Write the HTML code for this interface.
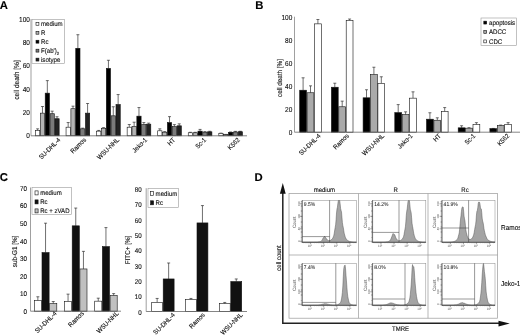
<!DOCTYPE html>
<html><head><meta charset="utf-8"><title>Figure</title>
<style>html,body{margin:0;padding:0;background:#fff;}svg{display:block;filter:blur(0.45px);}</style></head><body>
<svg width="520" height="335" viewBox="0 0 520 335" font-family="Liberation Sans, Arial, sans-serif" text-rendering="geometricPrecision">
<rect x="0" y="0" width="520" height="335" fill="#fff"/>
<text transform="translate(-0.20 8.50) scale(1.0000 1)" font-size="11.30" text-anchor="start" fill="#000" stroke="#000" stroke-width="0.12" font-weight="bold" >A</text>
<text transform="translate(255.20 8.80) scale(1.0000 1)" font-size="11.30" text-anchor="start" fill="#000" stroke="#000" stroke-width="0.12" font-weight="bold" >B</text>
<text transform="translate(-0.20 181.20) scale(1.0000 1)" font-size="11.30" text-anchor="start" fill="#000" stroke="#000" stroke-width="0.12" font-weight="bold" >C</text>
<text transform="translate(254.40 180.90) scale(1.0000 1)" font-size="11.30" text-anchor="start" fill="#000" stroke="#000" stroke-width="0.12" font-weight="bold" >D</text>
<line x1="31.00" y1="19.10" x2="31.00" y2="135.80" stroke="#777" stroke-width="0.7"/>
<text transform="translate(29.90 138.10) scale(0.9091 1)" font-size="7.15" text-anchor="end" fill="#111" stroke="#111" stroke-width="0.12" >0</text>
<text transform="translate(29.90 114.86) scale(0.9091 1)" font-size="7.15" text-anchor="end" fill="#111" stroke="#111" stroke-width="0.12" >20</text>
<text transform="translate(29.90 91.62) scale(0.9091 1)" font-size="7.15" text-anchor="end" fill="#111" stroke="#111" stroke-width="0.12" >40</text>
<text transform="translate(29.90 68.38) scale(0.9091 1)" font-size="7.15" text-anchor="end" fill="#111" stroke="#111" stroke-width="0.12" >60</text>
<text transform="translate(29.90 45.14) scale(0.9091 1)" font-size="7.15" text-anchor="end" fill="#111" stroke="#111" stroke-width="0.12" >80</text>
<text transform="translate(29.90 21.90) scale(0.9091 1)" font-size="7.15" text-anchor="end" fill="#111" stroke="#111" stroke-width="0.12" >100</text>
<line x1="37.62" y1="130.57" x2="37.62" y2="128.83" stroke="#222" stroke-width="0.65"/>
<line x1="36.12" y1="128.83" x2="39.12" y2="128.83" stroke="#222" stroke-width="0.65"/>
<rect x="35.50" y="130.57" width="4.25" height="5.23" fill="#fff" stroke="#111" stroke-width="0.6"/>
<line x1="42.48" y1="113.14" x2="42.48" y2="106.52" stroke="#222" stroke-width="0.65"/>
<line x1="40.98" y1="106.52" x2="43.98" y2="106.52" stroke="#222" stroke-width="0.65"/>
<rect x="40.35" y="113.14" width="4.25" height="22.66" fill="#b4b4b4" stroke="#111" stroke-width="0.6"/>
<line x1="47.33" y1="93.15" x2="47.33" y2="80.61" stroke="#222" stroke-width="0.65"/>
<line x1="45.83" y1="80.61" x2="48.83" y2="80.61" stroke="#222" stroke-width="0.65"/>
<rect x="45.20" y="93.15" width="4.25" height="42.65" fill="#000" stroke="#111" stroke-width="0.6"/>
<line x1="52.17" y1="113.72" x2="52.17" y2="111.17" stroke="#222" stroke-width="0.65"/>
<line x1="50.67" y1="111.17" x2="53.67" y2="111.17" stroke="#222" stroke-width="0.65"/>
<rect x="50.05" y="113.72" width="4.25" height="22.08" fill="#7a7a7a" stroke="#111" stroke-width="0.6"/>
<line x1="57.02" y1="118.72" x2="57.02" y2="116.74" stroke="#222" stroke-width="0.65"/>
<line x1="55.52" y1="116.74" x2="58.52" y2="116.74" stroke="#222" stroke-width="0.65"/>
<rect x="54.90" y="118.72" width="4.25" height="17.08" fill="#222" stroke="#111" stroke-width="0.6"/>
<text transform="translate(60.95 140.30) rotate(-45) scale(0.9091 1)" font-size="6.60" text-anchor="end" fill="#111" stroke="#111" stroke-width="0.12" >SU-DHL-4</text>
<line x1="68.17" y1="127.20" x2="68.17" y2="122.55" stroke="#222" stroke-width="0.65"/>
<line x1="66.67" y1="122.55" x2="69.67" y2="122.55" stroke="#222" stroke-width="0.65"/>
<rect x="66.05" y="127.20" width="4.25" height="8.60" fill="#fff" stroke="#111" stroke-width="0.6"/>
<line x1="73.02" y1="108.73" x2="73.02" y2="106.17" stroke="#222" stroke-width="0.65"/>
<line x1="71.52" y1="106.17" x2="74.52" y2="106.17" stroke="#222" stroke-width="0.65"/>
<rect x="70.90" y="108.73" width="4.25" height="27.07" fill="#b4b4b4" stroke="#111" stroke-width="0.6"/>
<line x1="77.88" y1="48.30" x2="77.88" y2="34.71" stroke="#222" stroke-width="0.65"/>
<line x1="76.38" y1="34.71" x2="79.38" y2="34.71" stroke="#222" stroke-width="0.65"/>
<rect x="75.75" y="48.30" width="4.25" height="87.50" fill="#000" stroke="#111" stroke-width="0.6"/>
<line x1="82.72" y1="128.83" x2="82.72" y2="128.13" stroke="#222" stroke-width="0.65"/>
<line x1="81.22" y1="128.13" x2="84.22" y2="128.13" stroke="#222" stroke-width="0.65"/>
<rect x="80.60" y="128.83" width="4.25" height="6.97" fill="#7a7a7a" stroke="#111" stroke-width="0.6"/>
<line x1="87.58" y1="113.14" x2="87.58" y2="103.50" stroke="#222" stroke-width="0.65"/>
<line x1="86.08" y1="103.50" x2="89.08" y2="103.50" stroke="#222" stroke-width="0.65"/>
<rect x="85.45" y="113.14" width="4.25" height="22.66" fill="#222" stroke="#111" stroke-width="0.6"/>
<text transform="translate(86.50 140.30) rotate(-45) scale(0.9091 1)" font-size="6.60" text-anchor="end" fill="#111" stroke="#111" stroke-width="0.12" >Ramos</text>
<line x1="98.73" y1="131.15" x2="98.73" y2="130.45" stroke="#222" stroke-width="0.65"/>
<line x1="97.23" y1="130.45" x2="100.23" y2="130.45" stroke="#222" stroke-width="0.65"/>
<rect x="96.60" y="131.15" width="4.25" height="4.65" fill="#fff" stroke="#111" stroke-width="0.6"/>
<line x1="103.58" y1="128.25" x2="103.58" y2="127.67" stroke="#222" stroke-width="0.65"/>
<line x1="102.08" y1="127.67" x2="105.08" y2="127.67" stroke="#222" stroke-width="0.65"/>
<rect x="101.45" y="128.25" width="4.25" height="7.55" fill="#b4b4b4" stroke="#111" stroke-width="0.6"/>
<line x1="108.43" y1="68.40" x2="108.43" y2="60.27" stroke="#222" stroke-width="0.65"/>
<line x1="106.93" y1="60.27" x2="109.93" y2="60.27" stroke="#222" stroke-width="0.65"/>
<rect x="106.30" y="68.40" width="4.25" height="67.40" fill="#000" stroke="#111" stroke-width="0.6"/>
<line x1="113.28" y1="115.81" x2="113.28" y2="106.75" stroke="#222" stroke-width="0.65"/>
<line x1="111.78" y1="106.75" x2="114.78" y2="106.75" stroke="#222" stroke-width="0.65"/>
<rect x="111.15" y="115.81" width="4.25" height="19.99" fill="#7a7a7a" stroke="#111" stroke-width="0.6"/>
<line x1="118.13" y1="104.54" x2="118.13" y2="94.55" stroke="#222" stroke-width="0.65"/>
<line x1="116.63" y1="94.55" x2="119.63" y2="94.55" stroke="#222" stroke-width="0.65"/>
<rect x="116.00" y="104.54" width="4.25" height="31.26" fill="#222" stroke="#111" stroke-width="0.6"/>
<text transform="translate(119.55 140.30) rotate(-45) scale(0.9091 1)" font-size="6.60" text-anchor="end" fill="#111" stroke="#111" stroke-width="0.12" >WSU-NHL</text>
<line x1="129.28" y1="127.20" x2="129.28" y2="124.53" stroke="#222" stroke-width="0.65"/>
<line x1="127.78" y1="124.53" x2="130.78" y2="124.53" stroke="#222" stroke-width="0.65"/>
<rect x="127.15" y="127.20" width="4.25" height="8.60" fill="#fff" stroke="#111" stroke-width="0.6"/>
<line x1="134.13" y1="126.62" x2="134.13" y2="122.20" stroke="#222" stroke-width="0.65"/>
<line x1="132.63" y1="122.20" x2="135.63" y2="122.20" stroke="#222" stroke-width="0.65"/>
<rect x="132.00" y="126.62" width="4.25" height="9.18" fill="#b4b4b4" stroke="#111" stroke-width="0.6"/>
<line x1="138.98" y1="116.16" x2="138.98" y2="107.56" stroke="#222" stroke-width="0.65"/>
<line x1="137.48" y1="107.56" x2="140.48" y2="107.56" stroke="#222" stroke-width="0.65"/>
<rect x="136.85" y="116.16" width="4.25" height="19.64" fill="#000" stroke="#111" stroke-width="0.6"/>
<line x1="143.83" y1="124.53" x2="143.83" y2="122.55" stroke="#222" stroke-width="0.65"/>
<line x1="142.33" y1="122.55" x2="145.33" y2="122.55" stroke="#222" stroke-width="0.65"/>
<rect x="141.70" y="124.53" width="4.25" height="11.27" fill="#7a7a7a" stroke="#111" stroke-width="0.6"/>
<line x1="148.68" y1="124.18" x2="148.68" y2="123.13" stroke="#222" stroke-width="0.65"/>
<line x1="147.18" y1="123.13" x2="150.18" y2="123.13" stroke="#222" stroke-width="0.65"/>
<rect x="146.55" y="124.18" width="4.25" height="11.62" fill="#222" stroke="#111" stroke-width="0.6"/>
<text transform="translate(147.70 140.30) rotate(-45) scale(0.9091 1)" font-size="6.60" text-anchor="end" fill="#111" stroke="#111" stroke-width="0.12" >Jeko-1</text>
<line x1="159.83" y1="130.80" x2="159.83" y2="128.83" stroke="#222" stroke-width="0.65"/>
<line x1="158.33" y1="128.83" x2="161.33" y2="128.83" stroke="#222" stroke-width="0.65"/>
<rect x="157.70" y="130.80" width="4.25" height="5.00" fill="#fff" stroke="#111" stroke-width="0.6"/>
<line x1="164.68" y1="132.20" x2="164.68" y2="131.62" stroke="#222" stroke-width="0.65"/>
<line x1="163.18" y1="131.62" x2="166.18" y2="131.62" stroke="#222" stroke-width="0.65"/>
<rect x="162.55" y="132.20" width="4.25" height="3.60" fill="#b4b4b4" stroke="#111" stroke-width="0.6"/>
<line x1="169.53" y1="122.55" x2="169.53" y2="116.63" stroke="#222" stroke-width="0.65"/>
<line x1="168.03" y1="116.63" x2="171.03" y2="116.63" stroke="#222" stroke-width="0.65"/>
<rect x="167.40" y="122.55" width="4.25" height="13.25" fill="#000" stroke="#111" stroke-width="0.6"/>
<line x1="174.38" y1="126.62" x2="174.38" y2="124.64" stroke="#222" stroke-width="0.65"/>
<line x1="172.88" y1="124.64" x2="175.88" y2="124.64" stroke="#222" stroke-width="0.65"/>
<rect x="172.25" y="126.62" width="4.25" height="9.18" fill="#7a7a7a" stroke="#111" stroke-width="0.6"/>
<line x1="179.23" y1="125.81" x2="179.23" y2="123.83" stroke="#222" stroke-width="0.65"/>
<line x1="177.73" y1="123.83" x2="180.73" y2="123.83" stroke="#222" stroke-width="0.65"/>
<rect x="177.10" y="125.81" width="4.25" height="9.99" fill="#222" stroke="#111" stroke-width="0.6"/>
<text transform="translate(175.65 140.30) rotate(-45) scale(0.9091 1)" font-size="6.60" text-anchor="end" fill="#111" stroke="#111" stroke-width="0.12" >HT</text>
<line x1="190.38" y1="132.78" x2="190.38" y2="132.31" stroke="#222" stroke-width="0.65"/>
<line x1="188.88" y1="132.31" x2="191.88" y2="132.31" stroke="#222" stroke-width="0.65"/>
<rect x="188.25" y="132.78" width="4.25" height="3.02" fill="#fff" stroke="#111" stroke-width="0.6"/>
<line x1="195.22" y1="132.78" x2="195.22" y2="132.31" stroke="#222" stroke-width="0.65"/>
<line x1="193.72" y1="132.31" x2="196.72" y2="132.31" stroke="#222" stroke-width="0.65"/>
<rect x="193.10" y="132.78" width="4.25" height="3.02" fill="#b4b4b4" stroke="#111" stroke-width="0.6"/>
<line x1="200.07" y1="131.15" x2="200.07" y2="129.41" stroke="#222" stroke-width="0.65"/>
<line x1="198.57" y1="129.41" x2="201.57" y2="129.41" stroke="#222" stroke-width="0.65"/>
<rect x="197.95" y="131.15" width="4.25" height="4.65" fill="#000" stroke="#111" stroke-width="0.6"/>
<line x1="204.93" y1="132.20" x2="204.93" y2="131.62" stroke="#222" stroke-width="0.65"/>
<line x1="203.43" y1="131.62" x2="206.43" y2="131.62" stroke="#222" stroke-width="0.65"/>
<rect x="202.80" y="132.20" width="4.25" height="3.60" fill="#7a7a7a" stroke="#111" stroke-width="0.6"/>
<line x1="209.78" y1="131.85" x2="209.78" y2="131.27" stroke="#222" stroke-width="0.65"/>
<line x1="208.28" y1="131.27" x2="211.28" y2="131.27" stroke="#222" stroke-width="0.65"/>
<rect x="207.65" y="131.85" width="4.25" height="3.95" fill="#222" stroke="#111" stroke-width="0.6"/>
<text transform="translate(206.60 140.30) rotate(-45) scale(0.9091 1)" font-size="6.60" text-anchor="end" fill="#111" stroke="#111" stroke-width="0.12" >Sc-1</text>
<line x1="220.93" y1="133.48" x2="220.93" y2="133.13" stroke="#222" stroke-width="0.65"/>
<line x1="219.43" y1="133.13" x2="222.43" y2="133.13" stroke="#222" stroke-width="0.65"/>
<rect x="218.80" y="133.48" width="4.25" height="2.32" fill="#fff" stroke="#111" stroke-width="0.6"/>
<line x1="225.78" y1="134.64" x2="225.78" y2="134.41" stroke="#222" stroke-width="0.65"/>
<line x1="224.28" y1="134.41" x2="227.28" y2="134.41" stroke="#222" stroke-width="0.65"/>
<rect x="223.65" y="134.64" width="4.25" height="1.16" fill="#b4b4b4" stroke="#111" stroke-width="0.6"/>
<line x1="230.62" y1="132.31" x2="230.62" y2="131.97" stroke="#222" stroke-width="0.65"/>
<line x1="229.12" y1="131.97" x2="232.12" y2="131.97" stroke="#222" stroke-width="0.65"/>
<rect x="228.50" y="132.31" width="4.25" height="3.49" fill="#000" stroke="#111" stroke-width="0.6"/>
<line x1="235.48" y1="131.97" x2="235.48" y2="131.38" stroke="#222" stroke-width="0.65"/>
<line x1="233.98" y1="131.38" x2="236.98" y2="131.38" stroke="#222" stroke-width="0.65"/>
<rect x="233.35" y="131.97" width="4.25" height="3.83" fill="#7a7a7a" stroke="#111" stroke-width="0.6"/>
<line x1="240.33" y1="131.73" x2="240.33" y2="131.27" stroke="#222" stroke-width="0.65"/>
<line x1="238.83" y1="131.27" x2="241.83" y2="131.27" stroke="#222" stroke-width="0.65"/>
<rect x="238.20" y="131.73" width="4.25" height="4.07" fill="#222" stroke="#111" stroke-width="0.6"/>
<text transform="translate(240.25 140.30) rotate(-45) scale(0.9091 1)" font-size="6.60" text-anchor="end" fill="#111" stroke="#111" stroke-width="0.12" >K562</text>
<line x1="31.00" y1="135.80" x2="247.00" y2="135.80" stroke="#666" stroke-width="0.8"/>
<text transform="translate(19.30 80.00) rotate(-90) scale(0.9091 1)" font-size="7.26" text-anchor="middle" fill="#111" stroke="#111" stroke-width="0.12" >cell death [%]</text>
<rect x="32.00" y="19.40" width="32.40" height="44.20" fill="#fff" stroke="#999" stroke-width="0.6"/>
<rect x="36.00" y="22.35" width="2.90" height="2.90" fill="#fff" stroke="#111" stroke-width="0.6"/>
<text transform="translate(41.00 26.10) scale(0.9091 1)" font-size="6.71" text-anchor="start" fill="#111" stroke="#111" stroke-width="0.12" >medium</text>
<rect x="36.00" y="31.30" width="2.90" height="2.90" fill="#b4b4b4" stroke="#111" stroke-width="0.6"/>
<text transform="translate(41.00 35.05) scale(0.9091 1)" font-size="6.71" text-anchor="start" fill="#111" stroke="#111" stroke-width="0.12" >R</text>
<rect x="36.00" y="40.25" width="2.90" height="2.90" fill="#000" stroke="#111" stroke-width="0.6"/>
<text transform="translate(41.00 44.00) scale(0.9091 1)" font-size="6.71" text-anchor="start" fill="#111" stroke="#111" stroke-width="0.12" >Rc</text>
<rect x="36.00" y="49.20" width="2.90" height="2.90" fill="#7a7a7a" stroke="#111" stroke-width="0.6"/>
<text transform="translate(41.00 52.95) scale(0.9091 1)" font-size="6.71" text-anchor="start" fill="#111" stroke="#111" stroke-width="0.12" >F(ab')<tspan font-size="4.6" dy="1.6">2</tspan></text>
<rect x="36.00" y="58.15" width="2.90" height="2.90" fill="#222" stroke="#111" stroke-width="0.6"/>
<text transform="translate(41.00 61.90) scale(0.9091 1)" font-size="6.71" text-anchor="start" fill="#111" stroke="#111" stroke-width="0.12" >isotype</text>
<line x1="294.50" y1="16.70" x2="294.50" y2="132.20" stroke="#777" stroke-width="0.7"/>
<text transform="translate(292.30 134.50) scale(0.9091 1)" font-size="7.15" text-anchor="end" fill="#111" stroke="#111" stroke-width="0.12" >0</text>
<text transform="translate(292.30 111.50) scale(0.9091 1)" font-size="7.15" text-anchor="end" fill="#111" stroke="#111" stroke-width="0.12" >20</text>
<text transform="translate(292.30 88.50) scale(0.9091 1)" font-size="7.15" text-anchor="end" fill="#111" stroke="#111" stroke-width="0.12" >40</text>
<text transform="translate(292.30 65.50) scale(0.9091 1)" font-size="7.15" text-anchor="end" fill="#111" stroke="#111" stroke-width="0.12" >60</text>
<text transform="translate(292.30 42.50) scale(0.9091 1)" font-size="7.15" text-anchor="end" fill="#111" stroke="#111" stroke-width="0.12" >80</text>
<text transform="translate(292.30 19.50) scale(0.9091 1)" font-size="7.15" text-anchor="end" fill="#111" stroke="#111" stroke-width="0.12" >100</text>
<line x1="303.10" y1="90.22" x2="303.10" y2="77.80" stroke="#222" stroke-width="0.65"/>
<line x1="301.60" y1="77.80" x2="304.60" y2="77.80" stroke="#222" stroke-width="0.65"/>
<rect x="299.70" y="90.22" width="6.80" height="41.97" fill="#000" stroke="#111" stroke-width="0.6"/>
<line x1="310.50" y1="92.75" x2="310.50" y2="85.85" stroke="#222" stroke-width="0.65"/>
<line x1="309.00" y1="85.85" x2="312.00" y2="85.85" stroke="#222" stroke-width="0.65"/>
<rect x="307.10" y="92.75" width="6.80" height="39.44" fill="#aaa" stroke="#111" stroke-width="0.6"/>
<line x1="317.90" y1="23.87" x2="317.90" y2="19.50" stroke="#222" stroke-width="0.65"/>
<line x1="316.40" y1="19.50" x2="319.40" y2="19.50" stroke="#222" stroke-width="0.65"/>
<rect x="314.50" y="23.87" width="6.80" height="108.33" fill="#fff" stroke="#111" stroke-width="0.6"/>
<text transform="translate(321.10 136.30) rotate(-45) scale(0.9091 1)" font-size="6.60" text-anchor="end" fill="#111" stroke="#111" stroke-width="0.12" >SU-DHL-4</text>
<line x1="334.80" y1="87.23" x2="334.80" y2="83.21" stroke="#222" stroke-width="0.65"/>
<line x1="333.30" y1="83.21" x2="336.30" y2="83.21" stroke="#222" stroke-width="0.65"/>
<rect x="331.40" y="87.23" width="6.80" height="44.97" fill="#000" stroke="#111" stroke-width="0.6"/>
<line x1="342.20" y1="106.78" x2="342.20" y2="101.15" stroke="#222" stroke-width="0.65"/>
<line x1="340.70" y1="101.15" x2="343.70" y2="101.15" stroke="#222" stroke-width="0.65"/>
<rect x="338.80" y="106.78" width="6.80" height="25.41" fill="#aaa" stroke="#111" stroke-width="0.6"/>
<line x1="349.60" y1="20.42" x2="349.60" y2="19.04" stroke="#222" stroke-width="0.65"/>
<line x1="348.10" y1="19.04" x2="351.10" y2="19.04" stroke="#222" stroke-width="0.65"/>
<rect x="346.20" y="20.42" width="6.80" height="111.78" fill="#fff" stroke="#111" stroke-width="0.6"/>
<text transform="translate(349.30 136.30) rotate(-45) scale(0.9091 1)" font-size="6.60" text-anchor="end" fill="#111" stroke="#111" stroke-width="0.12" >Ramos</text>
<line x1="366.50" y1="97.81" x2="366.50" y2="89.76" stroke="#222" stroke-width="0.65"/>
<line x1="365.00" y1="89.76" x2="368.00" y2="89.76" stroke="#222" stroke-width="0.65"/>
<rect x="363.10" y="97.81" width="6.80" height="34.38" fill="#000" stroke="#111" stroke-width="0.6"/>
<line x1="373.90" y1="74.58" x2="373.90" y2="67.22" stroke="#222" stroke-width="0.65"/>
<line x1="372.40" y1="67.22" x2="375.40" y2="67.22" stroke="#222" stroke-width="0.65"/>
<rect x="370.50" y="74.58" width="6.80" height="57.61" fill="#aaa" stroke="#111" stroke-width="0.6"/>
<line x1="381.30" y1="83.32" x2="381.30" y2="76.77" stroke="#222" stroke-width="0.65"/>
<line x1="379.80" y1="76.77" x2="382.80" y2="76.77" stroke="#222" stroke-width="0.65"/>
<rect x="377.90" y="83.32" width="6.80" height="48.88" fill="#fff" stroke="#111" stroke-width="0.6"/>
<text transform="translate(384.60 136.30) rotate(-45) scale(0.9091 1)" font-size="6.60" text-anchor="end" fill="#111" stroke="#111" stroke-width="0.12" >WSU-NHL</text>
<line x1="398.20" y1="112.65" x2="398.20" y2="104.60" stroke="#222" stroke-width="0.65"/>
<line x1="396.70" y1="104.60" x2="399.70" y2="104.60" stroke="#222" stroke-width="0.65"/>
<rect x="394.80" y="112.65" width="6.80" height="19.55" fill="#000" stroke="#111" stroke-width="0.6"/>
<line x1="405.60" y1="114.60" x2="405.60" y2="111.84" stroke="#222" stroke-width="0.65"/>
<line x1="404.10" y1="111.84" x2="407.10" y2="111.84" stroke="#222" stroke-width="0.65"/>
<rect x="402.20" y="114.60" width="6.80" height="17.59" fill="#aaa" stroke="#111" stroke-width="0.6"/>
<line x1="413.00" y1="98.16" x2="413.00" y2="91.83" stroke="#222" stroke-width="0.65"/>
<line x1="411.50" y1="91.83" x2="414.50" y2="91.83" stroke="#222" stroke-width="0.65"/>
<rect x="409.60" y="98.16" width="6.80" height="34.04" fill="#fff" stroke="#111" stroke-width="0.6"/>
<text transform="translate(413.10 136.30) rotate(-45) scale(0.9091 1)" font-size="6.60" text-anchor="end" fill="#111" stroke="#111" stroke-width="0.12" >Jeko-1</text>
<line x1="429.90" y1="119.20" x2="429.90" y2="112.76" stroke="#222" stroke-width="0.65"/>
<line x1="428.40" y1="112.76" x2="431.40" y2="112.76" stroke="#222" stroke-width="0.65"/>
<rect x="426.50" y="119.20" width="6.80" height="13.00" fill="#000" stroke="#111" stroke-width="0.6"/>
<line x1="437.30" y1="120.24" x2="437.30" y2="117.82" stroke="#222" stroke-width="0.65"/>
<line x1="435.80" y1="117.82" x2="438.80" y2="117.82" stroke="#222" stroke-width="0.65"/>
<rect x="433.90" y="120.24" width="6.80" height="11.96" fill="#aaa" stroke="#111" stroke-width="0.6"/>
<line x1="444.70" y1="111.61" x2="444.70" y2="107.59" stroke="#222" stroke-width="0.65"/>
<line x1="443.20" y1="107.59" x2="446.20" y2="107.59" stroke="#222" stroke-width="0.65"/>
<rect x="441.30" y="111.61" width="6.80" height="20.58" fill="#fff" stroke="#111" stroke-width="0.6"/>
<text transform="translate(441.40 136.30) rotate(-45) scale(0.9091 1)" font-size="6.60" text-anchor="end" fill="#111" stroke="#111" stroke-width="0.12" >HT</text>
<line x1="461.60" y1="127.83" x2="461.60" y2="125.76" stroke="#222" stroke-width="0.65"/>
<line x1="460.10" y1="125.76" x2="463.10" y2="125.76" stroke="#222" stroke-width="0.65"/>
<rect x="458.20" y="127.83" width="6.80" height="4.37" fill="#000" stroke="#111" stroke-width="0.6"/>
<line x1="469.00" y1="128.17" x2="469.00" y2="127.71" stroke="#222" stroke-width="0.65"/>
<line x1="467.50" y1="127.71" x2="470.50" y2="127.71" stroke="#222" stroke-width="0.65"/>
<rect x="465.60" y="128.17" width="6.80" height="4.03" fill="#aaa" stroke="#111" stroke-width="0.6"/>
<line x1="476.40" y1="124.61" x2="476.40" y2="122.65" stroke="#222" stroke-width="0.65"/>
<line x1="474.90" y1="122.65" x2="477.90" y2="122.65" stroke="#222" stroke-width="0.65"/>
<rect x="473.00" y="124.61" width="6.80" height="7.59" fill="#fff" stroke="#111" stroke-width="0.6"/>
<text transform="translate(475.90 136.30) rotate(-45) scale(0.9091 1)" font-size="6.60" text-anchor="end" fill="#111" stroke="#111" stroke-width="0.12" >Sc-1</text>
<line x1="493.30" y1="128.63" x2="493.30" y2="128.41" stroke="#222" stroke-width="0.65"/>
<line x1="491.80" y1="128.41" x2="494.80" y2="128.41" stroke="#222" stroke-width="0.65"/>
<rect x="489.90" y="128.63" width="6.80" height="3.56" fill="#000" stroke="#111" stroke-width="0.6"/>
<line x1="500.70" y1="125.64" x2="500.70" y2="125.07" stroke="#222" stroke-width="0.65"/>
<line x1="499.20" y1="125.07" x2="502.20" y2="125.07" stroke="#222" stroke-width="0.65"/>
<rect x="497.30" y="125.64" width="6.80" height="6.56" fill="#aaa" stroke="#111" stroke-width="0.6"/>
<line x1="508.10" y1="124.61" x2="508.10" y2="122.65" stroke="#222" stroke-width="0.65"/>
<line x1="506.60" y1="122.65" x2="509.60" y2="122.65" stroke="#222" stroke-width="0.65"/>
<rect x="504.70" y="124.61" width="6.80" height="7.59" fill="#fff" stroke="#111" stroke-width="0.6"/>
<text transform="translate(509.80 136.30) rotate(-45) scale(0.9091 1)" font-size="6.60" text-anchor="end" fill="#111" stroke="#111" stroke-width="0.12" >K562</text>
<line x1="294.50" y1="132.20" x2="520.00" y2="132.20" stroke="#666" stroke-width="0.8"/>
<text transform="translate(282.00 78.00) rotate(-90) scale(0.9091 1)" font-size="6.93" text-anchor="middle" fill="#111" stroke="#111" stroke-width="0.12" >cell death [%]</text>
<rect x="481.00" y="18.00" width="35.60" height="27.60" fill="#fff" stroke="#999" stroke-width="0.6"/>
<rect x="483.80" y="21.15" width="2.90" height="2.90" fill="#000" stroke="#111" stroke-width="0.6"/>
<text transform="translate(489.00 24.90) scale(0.9091 1)" font-size="6.71" text-anchor="start" fill="#111" stroke="#111" stroke-width="0.12" >apoptosis</text>
<rect x="483.80" y="30.55" width="2.90" height="2.90" fill="#aaa" stroke="#111" stroke-width="0.6"/>
<text transform="translate(489.00 34.30) scale(0.9091 1)" font-size="6.71" text-anchor="start" fill="#111" stroke="#111" stroke-width="0.12" >ADCC</text>
<rect x="483.80" y="39.95" width="2.90" height="2.90" fill="#fff" stroke="#111" stroke-width="0.6"/>
<text transform="translate(489.00 43.70) scale(0.9091 1)" font-size="6.71" text-anchor="start" fill="#111" stroke="#111" stroke-width="0.12" >CDC</text>
<line x1="30.50" y1="187.50" x2="30.50" y2="311.20" stroke="#777" stroke-width="0.7"/>
<text transform="translate(27.00 313.90) scale(0.9091 1)" font-size="6.93" text-anchor="end" fill="#111" stroke="#111" stroke-width="0.12" >0</text>
<text transform="translate(27.00 296.30) scale(0.9091 1)" font-size="6.93" text-anchor="end" fill="#111" stroke="#111" stroke-width="0.12" >10</text>
<text transform="translate(27.00 278.70) scale(0.9091 1)" font-size="6.93" text-anchor="end" fill="#111" stroke="#111" stroke-width="0.12" >20</text>
<text transform="translate(27.00 261.10) scale(0.9091 1)" font-size="6.93" text-anchor="end" fill="#111" stroke="#111" stroke-width="0.12" >30</text>
<text transform="translate(27.00 243.50) scale(0.9091 1)" font-size="6.93" text-anchor="end" fill="#111" stroke="#111" stroke-width="0.12" >40</text>
<text transform="translate(27.00 225.90) scale(0.9091 1)" font-size="6.93" text-anchor="end" fill="#111" stroke="#111" stroke-width="0.12" >50</text>
<text transform="translate(27.00 208.30) scale(0.9091 1)" font-size="6.93" text-anchor="end" fill="#111" stroke="#111" stroke-width="0.12" >60</text>
<text transform="translate(27.00 190.70) scale(0.9091 1)" font-size="6.93" text-anchor="end" fill="#111" stroke="#111" stroke-width="0.12" >70</text>
<line x1="37.85" y1="300.64" x2="37.85" y2="296.77" stroke="#222" stroke-width="0.65"/>
<line x1="36.35" y1="296.77" x2="39.35" y2="296.77" stroke="#222" stroke-width="0.65"/>
<rect x="34.30" y="300.64" width="7.10" height="10.56" fill="#fff" stroke="#111" stroke-width="0.6"/>
<line x1="45.55" y1="252.59" x2="45.55" y2="223.20" stroke="#222" stroke-width="0.65"/>
<line x1="44.05" y1="223.20" x2="47.05" y2="223.20" stroke="#222" stroke-width="0.65"/>
<rect x="42.00" y="252.59" width="7.10" height="58.61" fill="#111" stroke="#111" stroke-width="0.6"/>
<line x1="53.25" y1="303.63" x2="53.25" y2="301.52" stroke="#222" stroke-width="0.65"/>
<line x1="51.75" y1="301.52" x2="54.75" y2="301.52" stroke="#222" stroke-width="0.65"/>
<rect x="49.70" y="303.63" width="7.10" height="7.57" fill="#c0c0c0" stroke="#111" stroke-width="0.6"/>
<text transform="translate(57.10 314.00) rotate(-45) scale(0.9091 1)" font-size="6.60" text-anchor="end" fill="#111" stroke="#111" stroke-width="0.12" >SU-DHL-4</text>
<line x1="68.05" y1="301.52" x2="68.05" y2="294.13" stroke="#222" stroke-width="0.65"/>
<line x1="66.55" y1="294.13" x2="69.55" y2="294.13" stroke="#222" stroke-width="0.65"/>
<rect x="64.50" y="301.52" width="7.10" height="9.68" fill="#fff" stroke="#111" stroke-width="0.6"/>
<line x1="75.75" y1="225.84" x2="75.75" y2="208.06" stroke="#222" stroke-width="0.65"/>
<line x1="74.25" y1="208.06" x2="77.25" y2="208.06" stroke="#222" stroke-width="0.65"/>
<rect x="72.20" y="225.84" width="7.10" height="85.36" fill="#111" stroke="#111" stroke-width="0.6"/>
<line x1="83.45" y1="268.96" x2="83.45" y2="251.36" stroke="#222" stroke-width="0.65"/>
<line x1="81.95" y1="251.36" x2="84.95" y2="251.36" stroke="#222" stroke-width="0.65"/>
<rect x="79.90" y="268.96" width="7.10" height="42.24" fill="#c0c0c0" stroke="#111" stroke-width="0.6"/>
<text transform="translate(84.30 314.00) rotate(-45) scale(0.9091 1)" font-size="6.60" text-anchor="end" fill="#111" stroke="#111" stroke-width="0.12" >Ramos</text>
<line x1="98.25" y1="301.17" x2="98.25" y2="298.18" stroke="#222" stroke-width="0.65"/>
<line x1="96.75" y1="298.18" x2="99.75" y2="298.18" stroke="#222" stroke-width="0.65"/>
<rect x="94.70" y="301.17" width="7.10" height="10.03" fill="#fff" stroke="#111" stroke-width="0.6"/>
<line x1="105.95" y1="246.61" x2="105.95" y2="227.60" stroke="#222" stroke-width="0.65"/>
<line x1="104.45" y1="227.60" x2="107.45" y2="227.60" stroke="#222" stroke-width="0.65"/>
<rect x="102.40" y="246.61" width="7.10" height="64.59" fill="#111" stroke="#111" stroke-width="0.6"/>
<line x1="113.65" y1="295.54" x2="113.65" y2="293.60" stroke="#222" stroke-width="0.65"/>
<line x1="112.15" y1="293.60" x2="115.15" y2="293.60" stroke="#222" stroke-width="0.65"/>
<rect x="110.10" y="295.54" width="7.10" height="15.66" fill="#c0c0c0" stroke="#111" stroke-width="0.6"/>
<text transform="translate(119.00 314.00) rotate(-45) scale(0.9091 1)" font-size="6.60" text-anchor="end" fill="#111" stroke="#111" stroke-width="0.12" >WSU-NHL</text>
<line x1="30.50" y1="311.20" x2="121.00" y2="311.20" stroke="#666" stroke-width="0.8"/>
<text transform="translate(16.50 251.50) rotate(-90) scale(0.9091 1)" font-size="6.93" text-anchor="middle" fill="#111" stroke="#111" stroke-width="0.12" >sub-G1 [%]</text>
<rect x="32.00" y="187.40" width="39.60" height="27.20" fill="#fff" stroke="#999" stroke-width="0.6"/>
<rect x="35.00" y="190.90" width="3.10" height="4.00" fill="#fff" stroke="#111" stroke-width="0.6"/>
<text transform="translate(40.20 195.20) scale(0.9091 1)" font-size="6.66" text-anchor="start" fill="#111" stroke="#111" stroke-width="0.12" >medium</text>
<rect x="35.00" y="199.90" width="3.10" height="4.00" fill="#111" stroke="#111" stroke-width="0.6"/>
<text transform="translate(40.20 204.20) scale(0.9091 1)" font-size="6.66" text-anchor="start" fill="#111" stroke="#111" stroke-width="0.12" >Rc</text>
<rect x="35.00" y="208.90" width="3.10" height="4.00" fill="#c0c0c0" stroke="#111" stroke-width="0.6"/>
<text transform="translate(40.20 213.20) scale(0.9091 1)" font-size="6.66" text-anchor="start" fill="#111" stroke="#111" stroke-width="0.12" >Rc + zVAD</text>
<line x1="146.20" y1="188.20" x2="146.20" y2="311.50" stroke="#777" stroke-width="0.7"/>
<text transform="translate(141.60 314.80) scale(0.9091 1)" font-size="6.82" text-anchor="end" fill="#111" stroke="#111" stroke-width="0.12" >0</text>
<text transform="translate(141.60 299.45) scale(0.9091 1)" font-size="6.82" text-anchor="end" fill="#111" stroke="#111" stroke-width="0.12" >10</text>
<text transform="translate(141.60 284.10) scale(0.9091 1)" font-size="6.82" text-anchor="end" fill="#111" stroke="#111" stroke-width="0.12" >20</text>
<text transform="translate(141.60 268.75) scale(0.9091 1)" font-size="6.82" text-anchor="end" fill="#111" stroke="#111" stroke-width="0.12" >30</text>
<text transform="translate(141.60 253.40) scale(0.9091 1)" font-size="6.82" text-anchor="end" fill="#111" stroke="#111" stroke-width="0.12" >40</text>
<text transform="translate(141.60 238.05) scale(0.9091 1)" font-size="6.82" text-anchor="end" fill="#111" stroke="#111" stroke-width="0.12" >50</text>
<text transform="translate(141.60 222.70) scale(0.9091 1)" font-size="6.82" text-anchor="end" fill="#111" stroke="#111" stroke-width="0.12" >60</text>
<text transform="translate(141.60 207.35) scale(0.9091 1)" font-size="6.82" text-anchor="end" fill="#111" stroke="#111" stroke-width="0.12" >70</text>
<text transform="translate(141.60 192.00) scale(0.9091 1)" font-size="6.82" text-anchor="end" fill="#111" stroke="#111" stroke-width="0.12" >80</text>
<line x1="157.15" y1="302.44" x2="157.15" y2="298.45" stroke="#222" stroke-width="0.65"/>
<line x1="155.65" y1="298.45" x2="158.65" y2="298.45" stroke="#222" stroke-width="0.65"/>
<rect x="151.70" y="302.44" width="10.90" height="9.06" fill="#fff" stroke="#111" stroke-width="0.6"/>
<line x1="168.65" y1="278.96" x2="168.65" y2="262.99" stroke="#222" stroke-width="0.65"/>
<line x1="167.15" y1="262.99" x2="170.15" y2="262.99" stroke="#222" stroke-width="0.65"/>
<rect x="163.20" y="278.96" width="10.90" height="32.54" fill="#111" stroke="#111" stroke-width="0.6"/>
<text transform="translate(175.40 315.50) rotate(-45) scale(0.9091 1)" font-size="6.60" text-anchor="end" fill="#111" stroke="#111" stroke-width="0.12" >SU-DHL-4</text>
<line x1="190.95" y1="299.60" x2="190.95" y2="298.45" stroke="#222" stroke-width="0.65"/>
<line x1="189.45" y1="298.45" x2="192.45" y2="298.45" stroke="#222" stroke-width="0.65"/>
<rect x="185.50" y="299.60" width="10.90" height="11.90" fill="#fff" stroke="#111" stroke-width="0.6"/>
<line x1="202.45" y1="222.93" x2="202.45" y2="205.59" stroke="#222" stroke-width="0.65"/>
<line x1="200.95" y1="205.59" x2="203.95" y2="205.59" stroke="#222" stroke-width="0.65"/>
<rect x="197.00" y="222.93" width="10.90" height="88.57" fill="#111" stroke="#111" stroke-width="0.6"/>
<text transform="translate(205.20 315.50) rotate(-45) scale(0.9091 1)" font-size="6.60" text-anchor="end" fill="#111" stroke="#111" stroke-width="0.12" >Ramos</text>
<line x1="224.75" y1="303.67" x2="224.75" y2="302.44" stroke="#222" stroke-width="0.65"/>
<line x1="223.25" y1="302.44" x2="226.25" y2="302.44" stroke="#222" stroke-width="0.65"/>
<rect x="219.30" y="303.67" width="10.90" height="7.83" fill="#fff" stroke="#111" stroke-width="0.6"/>
<line x1="236.25" y1="281.57" x2="236.25" y2="278.96" stroke="#222" stroke-width="0.65"/>
<line x1="234.75" y1="278.96" x2="237.75" y2="278.96" stroke="#222" stroke-width="0.65"/>
<rect x="230.80" y="281.57" width="10.90" height="29.93" fill="#111" stroke="#111" stroke-width="0.6"/>
<text transform="translate(243.00 315.50) rotate(-45) scale(0.9091 1)" font-size="6.60" text-anchor="end" fill="#111" stroke="#111" stroke-width="0.12" >WSU-NHL</text>
<line x1="146.20" y1="311.50" x2="247.00" y2="311.50" stroke="#666" stroke-width="0.8"/>
<text transform="translate(130.30 250.00) rotate(-90) scale(0.9091 1)" font-size="6.93" text-anchor="middle" fill="#111" stroke="#111" stroke-width="0.12" >FITC+ [%]</text>
<rect x="148.00" y="188.40" width="30.60" height="19.20" fill="#fff" stroke="#999" stroke-width="0.6"/>
<rect x="150.60" y="191.60" width="3.00" height="4.00" fill="#fff" stroke="#111" stroke-width="0.6"/>
<text transform="translate(155.60 195.90) scale(0.9091 1)" font-size="6.71" text-anchor="start" fill="#111" stroke="#111" stroke-width="0.12" >medium</text>
<rect x="150.60" y="200.80" width="3.00" height="4.00" fill="#111" stroke="#111" stroke-width="0.6"/>
<text transform="translate(155.60 205.10) scale(0.9091 1)" font-size="6.71" text-anchor="start" fill="#111" stroke="#111" stroke-width="0.12" >Rc</text>
<path d="M282.8 192 L282.8 323.3 L500 323.3" fill="none" stroke="#222" stroke-width="1.5"/>
<polygon points="282.8,183 279.9,193.8 285.7,193.8" fill="#111"/>
<polygon points="509.8,323.6 498.5,320.8 498.5,326.6" fill="#111"/>
<text transform="translate(280.60 258.00) rotate(-90) scale(0.9091 1)" font-size="6.60" text-anchor="middle" fill="#111" stroke="#111" stroke-width="0.12" >cell count</text>
<text transform="translate(400.60 330.80) scale(0.9091 1)" font-size="6.60" text-anchor="middle" fill="#111" stroke="#111" stroke-width="0.12" >TMRE</text>
<rect x="289.00" y="193.60" width="208.60" height="124.60" fill="none" stroke="#999" stroke-width="0.7"/>
<line x1="358.50" y1="193.60" x2="358.50" y2="318.20" stroke="#999" stroke-width="0.7"/>
<line x1="428.00" y1="193.60" x2="428.00" y2="318.20" stroke="#999" stroke-width="0.7"/>
<line x1="289.00" y1="255.00" x2="497.60" y2="255.00" stroke="#999" stroke-width="0.7"/>
<text transform="translate(324.30 191.80) scale(0.9091 1)" font-size="6.60" text-anchor="middle" fill="#111" stroke="#111" stroke-width="0.12" >medium</text>
<text transform="translate(395.60 191.80) scale(0.9091 1)" font-size="6.60" text-anchor="middle" fill="#111" stroke="#111" stroke-width="0.12" >R</text>
<text transform="translate(465.00 191.80) scale(0.9091 1)" font-size="6.60" text-anchor="middle" fill="#111" stroke="#111" stroke-width="0.12" >Rc</text>
<text transform="translate(501.00 230.30) scale(0.9091 1)" font-size="7.15" text-anchor="start" fill="#111" stroke="#111" stroke-width="0.12" >Ramos</text>
<text transform="translate(501.00 286.30) scale(0.9091 1)" font-size="7.15" text-anchor="start" fill="#111" stroke="#111" stroke-width="0.12" >Jeko-1</text>
<rect x="302.20" y="200.30" width="54.20" height="42.00" fill="#fff" stroke="#888" stroke-width="0.5"/>
<path d="M302.20 242.30 L302.20 242.00 L302.65 242.00 L303.10 242.00 L303.56 242.00 L304.01 242.00 L304.46 242.00 L304.91 242.00 L305.36 242.00 L305.81 242.00 L306.26 242.00 L306.72 242.00 L307.17 242.00 L307.62 242.00 L308.07 242.00 L308.52 242.00 L308.97 242.00 L309.43 242.00 L309.88 242.00 L310.33 242.00 L310.78 242.00 L311.23 242.00 L311.69 242.00 L312.14 242.00 L312.59 242.00 L313.04 242.00 L313.49 242.00 L313.94 242.00 L314.39 241.99 L314.85 241.99 L315.30 241.98 L315.75 241.98 L316.20 241.97 L316.65 241.96 L317.11 241.94 L317.56 241.91 L318.01 241.88 L318.46 241.85 L318.91 241.82 L319.36 241.75 L319.81 241.66 L320.27 241.56 L320.72 241.40 L321.17 241.13 L321.62 240.71 L322.07 240.15 L322.52 239.28 L322.98 238.27 L323.43 237.64 L323.88 237.27 L324.33 236.63 L324.78 236.34 L325.24 236.94 L325.69 237.78 L326.14 238.31 L326.59 238.84 L327.04 239.48 L327.49 239.97 L327.94 240.29 L328.40 240.55 L328.85 240.70 L329.30 240.61 L329.75 240.43 L330.20 240.36 L330.65 240.29 L331.11 239.95 L331.56 239.45 L332.01 239.04 L332.46 238.57 L332.91 237.75 L333.37 236.67 L333.82 235.34 L334.27 233.13 L334.72 230.07 L335.17 227.48 L335.62 224.91 L336.07 219.73 L336.53 212.95 L336.98 209.01 L337.43 207.21 L337.88 203.36 L338.33 200.50 L338.78 200.50 L339.24 200.50 L339.69 200.50 L340.14 203.68 L340.59 208.39 L341.04 210.25 L341.50 211.96 L341.95 217.08 L342.40 222.67 L342.85 225.56 L343.30 227.56 L343.75 230.45 L344.20 233.18 L344.66 234.99 L345.11 236.47 L345.56 237.75 L346.01 238.56 L346.46 239.14 L346.91 239.81 L347.37 240.38 L347.82 240.65 L348.27 240.81 L348.72 241.05 L349.17 241.28 L349.62 241.42 L350.08 241.51 L350.53 241.61 L350.98 241.69 L351.43 241.75 L351.88 241.81 L352.33 241.86 L352.79 241.89 L353.24 241.90 L353.69 241.93 L354.14 241.95 L354.59 241.96 L355.05 241.97 L355.50 241.98 L355.95 241.98 L356.40 241.99 L356.40 242.30 Z" fill="#a4a4a4" stroke="#4a4a4a" stroke-width="0.45"/>
<line x1="329.60" y1="200.30" x2="329.60" y2="242.30" stroke="#333" stroke-width="0.5"/>
<line x1="302.20" y1="236.60" x2="329.60" y2="236.60" stroke="#333" stroke-width="0.5"/>
<line x1="302.20" y1="242.30" x2="356.40" y2="242.30" stroke="#444" stroke-width="0.6"/>
<line x1="302.20" y1="200.30" x2="302.20" y2="242.30" stroke="#444" stroke-width="0.6"/>
<line x1="301.50" y1="201.10" x2="301.50" y2="242.30" stroke="#555" stroke-width="1.4" stroke-dasharray="0.35 0.7"/>
<line x1="299.80" y1="203.80" x2="302.20" y2="203.80" stroke="#444" stroke-width="0.45"/>
<text transform="translate(299.60 203.80) rotate(-90) scale(0.9091 1)" font-size="2.86" text-anchor="middle" fill="#555" >150</text>
<line x1="299.80" y1="216.30" x2="302.20" y2="216.30" stroke="#444" stroke-width="0.45"/>
<text transform="translate(299.60 216.30) rotate(-90) scale(0.9091 1)" font-size="2.86" text-anchor="middle" fill="#555" >100</text>
<line x1="299.80" y1="228.80" x2="302.20" y2="228.80" stroke="#444" stroke-width="0.45"/>
<text transform="translate(299.60 228.80) rotate(-90) scale(0.9091 1)" font-size="2.86" text-anchor="middle" fill="#555" >50</text>
<line x1="299.80" y1="241.30" x2="302.20" y2="241.30" stroke="#444" stroke-width="0.45"/>
<text transform="translate(299.60 241.30) rotate(-90) scale(0.9091 1)" font-size="2.86" text-anchor="middle" fill="#555" >0</text>
<line x1="310.60" y1="242.30" x2="310.60" y2="244.20" stroke="#444" stroke-width="0.45"/>
<line x1="314.54" y1="242.30" x2="314.54" y2="243.30" stroke="#666" stroke-width="0.3"/>
<line x1="316.85" y1="242.30" x2="316.85" y2="243.30" stroke="#666" stroke-width="0.3"/>
<line x1="318.49" y1="242.30" x2="318.49" y2="243.30" stroke="#666" stroke-width="0.3"/>
<line x1="319.76" y1="242.30" x2="319.76" y2="243.30" stroke="#666" stroke-width="0.3"/>
<line x1="320.79" y1="242.30" x2="320.79" y2="243.30" stroke="#666" stroke-width="0.3"/>
<line x1="321.67" y1="242.30" x2="321.67" y2="243.30" stroke="#666" stroke-width="0.3"/>
<line x1="322.43" y1="242.30" x2="322.43" y2="243.30" stroke="#666" stroke-width="0.3"/>
<line x1="323.10" y1="242.30" x2="323.10" y2="243.30" stroke="#666" stroke-width="0.3"/>
<text transform="translate(309.80 247.20) scale(0.9091 1)" font-size="3.19" text-anchor="middle" fill="#555" >10<tspan font-size="2.1" dy="-1.2">1</tspan></text>
<line x1="323.70" y1="242.30" x2="323.70" y2="244.20" stroke="#444" stroke-width="0.45"/>
<line x1="327.64" y1="242.30" x2="327.64" y2="243.30" stroke="#666" stroke-width="0.3"/>
<line x1="329.95" y1="242.30" x2="329.95" y2="243.30" stroke="#666" stroke-width="0.3"/>
<line x1="331.59" y1="242.30" x2="331.59" y2="243.30" stroke="#666" stroke-width="0.3"/>
<line x1="332.86" y1="242.30" x2="332.86" y2="243.30" stroke="#666" stroke-width="0.3"/>
<line x1="333.89" y1="242.30" x2="333.89" y2="243.30" stroke="#666" stroke-width="0.3"/>
<line x1="334.77" y1="242.30" x2="334.77" y2="243.30" stroke="#666" stroke-width="0.3"/>
<line x1="335.53" y1="242.30" x2="335.53" y2="243.30" stroke="#666" stroke-width="0.3"/>
<line x1="336.20" y1="242.30" x2="336.20" y2="243.30" stroke="#666" stroke-width="0.3"/>
<text transform="translate(322.90 247.20) scale(0.9091 1)" font-size="3.19" text-anchor="middle" fill="#555" >10<tspan font-size="2.1" dy="-1.2">2</tspan></text>
<line x1="336.80" y1="242.30" x2="336.80" y2="244.20" stroke="#444" stroke-width="0.45"/>
<line x1="340.74" y1="242.30" x2="340.74" y2="243.30" stroke="#666" stroke-width="0.3"/>
<line x1="343.05" y1="242.30" x2="343.05" y2="243.30" stroke="#666" stroke-width="0.3"/>
<line x1="344.69" y1="242.30" x2="344.69" y2="243.30" stroke="#666" stroke-width="0.3"/>
<line x1="345.96" y1="242.30" x2="345.96" y2="243.30" stroke="#666" stroke-width="0.3"/>
<line x1="346.99" y1="242.30" x2="346.99" y2="243.30" stroke="#666" stroke-width="0.3"/>
<line x1="347.87" y1="242.30" x2="347.87" y2="243.30" stroke="#666" stroke-width="0.3"/>
<line x1="348.63" y1="242.30" x2="348.63" y2="243.30" stroke="#666" stroke-width="0.3"/>
<line x1="349.30" y1="242.30" x2="349.30" y2="243.30" stroke="#666" stroke-width="0.3"/>
<text transform="translate(336.00 247.20) scale(0.9091 1)" font-size="3.19" text-anchor="middle" fill="#555" >10<tspan font-size="2.1" dy="-1.2">3</tspan></text>
<line x1="349.90" y1="242.30" x2="349.90" y2="244.20" stroke="#444" stroke-width="0.45"/>
<line x1="353.84" y1="242.30" x2="353.84" y2="243.30" stroke="#666" stroke-width="0.3"/>
<line x1="356.15" y1="242.30" x2="356.15" y2="243.30" stroke="#666" stroke-width="0.3"/>
<text transform="translate(349.10 247.20) scale(0.9091 1)" font-size="3.19" text-anchor="middle" fill="#555" >10<tspan font-size="2.1" dy="-1.2">4</tspan></text>
<line x1="303.75" y1="242.30" x2="303.75" y2="243.30" stroke="#666" stroke-width="0.3"/>
<line x1="305.39" y1="242.30" x2="305.39" y2="243.30" stroke="#666" stroke-width="0.3"/>
<line x1="306.66" y1="242.30" x2="306.66" y2="243.30" stroke="#666" stroke-width="0.3"/>
<line x1="307.69" y1="242.30" x2="307.69" y2="243.30" stroke="#666" stroke-width="0.3"/>
<line x1="308.57" y1="242.30" x2="308.57" y2="243.30" stroke="#666" stroke-width="0.3"/>
<line x1="309.33" y1="242.30" x2="309.33" y2="243.30" stroke="#666" stroke-width="0.3"/>
<line x1="310.00" y1="242.30" x2="310.00" y2="243.30" stroke="#666" stroke-width="0.3"/>
<text transform="translate(296.20 222.30) rotate(-90) scale(0.9091 1)" font-size="4.73" text-anchor="middle" fill="#555" >Count</text>
<text transform="translate(303.80 206.20) scale(0.9091 1)" font-size="5.50" text-anchor="start" fill="#222" stroke="#222" stroke-width="0.05" >9.5%</text>
<rect x="372.60" y="200.30" width="53.20" height="42.00" fill="#fff" stroke="#888" stroke-width="0.5"/>
<path d="M372.60 242.30 L372.60 242.00 L373.04 242.00 L373.49 242.00 L373.93 242.00 L374.37 242.00 L374.82 242.00 L375.26 242.00 L375.70 242.00 L376.15 242.00 L376.59 242.00 L377.03 242.00 L377.48 242.00 L377.92 242.00 L378.36 242.00 L378.81 242.00 L379.25 242.00 L379.69 242.00 L380.14 242.00 L380.58 242.00 L381.02 242.00 L381.47 242.00 L381.91 241.99 L382.35 241.99 L382.80 241.99 L383.24 241.98 L383.68 241.97 L384.13 241.96 L384.57 241.95 L385.01 241.92 L385.46 241.90 L385.90 241.87 L386.34 241.83 L386.79 241.79 L387.23 241.74 L387.67 241.65 L388.12 241.54 L388.56 241.45 L389.00 241.32 L389.45 241.03 L389.89 240.57 L390.33 240.02 L390.78 239.28 L391.22 238.21 L391.66 237.07 L392.11 235.93 L392.55 234.50 L392.99 233.46 L393.44 233.78 L393.88 234.43 L394.32 234.43 L394.77 234.77 L395.21 236.06 L395.65 237.36 L396.10 238.17 L396.54 238.89 L396.98 239.60 L397.43 240.07 L397.87 240.38 L398.31 240.65 L398.76 240.80 L399.20 240.72 L399.64 240.57 L400.09 240.52 L400.53 240.46 L400.97 240.17 L401.42 239.75 L401.86 239.41 L402.30 238.99 L402.75 238.29 L403.19 237.42 L403.63 236.30 L404.08 234.32 L404.52 231.56 L404.96 229.20 L405.41 226.75 L405.85 221.80 L406.29 215.30 L406.74 211.23 L407.18 208.87 L407.62 204.76 L408.07 200.96 L408.51 200.50 L408.95 200.50 L409.40 200.57 L409.84 204.39 L410.28 209.18 L410.73 210.92 L411.17 212.66 L411.61 217.82 L412.06 223.31 L412.50 226.22 L412.94 228.33 L413.39 231.18 L413.83 233.73 L414.27 235.46 L414.72 236.93 L415.16 238.16 L415.60 238.88 L416.05 239.41 L416.49 240.03 L416.93 240.55 L417.38 240.80 L417.82 240.95 L418.26 241.16 L418.71 241.37 L419.15 241.49 L419.59 241.58 L420.04 241.67 L420.48 241.74 L420.92 241.79 L421.37 241.84 L421.81 241.88 L422.25 241.91 L422.70 241.92 L423.14 241.94 L423.58 241.96 L424.03 241.97 L424.47 241.98 L424.91 241.98 L425.36 241.99 L425.80 241.99 L425.80 242.30 Z" fill="#a4a4a4" stroke="#4a4a4a" stroke-width="0.45"/>
<line x1="399.00" y1="200.30" x2="399.00" y2="242.30" stroke="#333" stroke-width="0.5"/>
<line x1="372.60" y1="232.40" x2="399.00" y2="232.40" stroke="#333" stroke-width="0.5"/>
<line x1="372.60" y1="242.30" x2="425.80" y2="242.30" stroke="#444" stroke-width="0.6"/>
<line x1="372.60" y1="200.30" x2="372.60" y2="242.30" stroke="#444" stroke-width="0.6"/>
<line x1="371.90" y1="201.10" x2="371.90" y2="242.30" stroke="#555" stroke-width="1.4" stroke-dasharray="0.35 0.7"/>
<line x1="370.20" y1="203.80" x2="372.60" y2="203.80" stroke="#444" stroke-width="0.45"/>
<text transform="translate(370.00 203.80) rotate(-90) scale(0.9091 1)" font-size="2.86" text-anchor="middle" fill="#555" >150</text>
<line x1="370.20" y1="216.30" x2="372.60" y2="216.30" stroke="#444" stroke-width="0.45"/>
<text transform="translate(370.00 216.30) rotate(-90) scale(0.9091 1)" font-size="2.86" text-anchor="middle" fill="#555" >100</text>
<line x1="370.20" y1="228.80" x2="372.60" y2="228.80" stroke="#444" stroke-width="0.45"/>
<text transform="translate(370.00 228.80) rotate(-90) scale(0.9091 1)" font-size="2.86" text-anchor="middle" fill="#555" >50</text>
<line x1="370.20" y1="241.30" x2="372.60" y2="241.30" stroke="#444" stroke-width="0.45"/>
<text transform="translate(370.00 241.30) rotate(-90) scale(0.9091 1)" font-size="2.86" text-anchor="middle" fill="#555" >0</text>
<line x1="381.00" y1="242.30" x2="381.00" y2="244.20" stroke="#444" stroke-width="0.45"/>
<line x1="384.94" y1="242.30" x2="384.94" y2="243.30" stroke="#666" stroke-width="0.3"/>
<line x1="387.25" y1="242.30" x2="387.25" y2="243.30" stroke="#666" stroke-width="0.3"/>
<line x1="388.89" y1="242.30" x2="388.89" y2="243.30" stroke="#666" stroke-width="0.3"/>
<line x1="390.16" y1="242.30" x2="390.16" y2="243.30" stroke="#666" stroke-width="0.3"/>
<line x1="391.19" y1="242.30" x2="391.19" y2="243.30" stroke="#666" stroke-width="0.3"/>
<line x1="392.07" y1="242.30" x2="392.07" y2="243.30" stroke="#666" stroke-width="0.3"/>
<line x1="392.83" y1="242.30" x2="392.83" y2="243.30" stroke="#666" stroke-width="0.3"/>
<line x1="393.50" y1="242.30" x2="393.50" y2="243.30" stroke="#666" stroke-width="0.3"/>
<text transform="translate(380.20 247.20) scale(0.9091 1)" font-size="3.19" text-anchor="middle" fill="#555" >10<tspan font-size="2.1" dy="-1.2">1</tspan></text>
<line x1="394.10" y1="242.30" x2="394.10" y2="244.20" stroke="#444" stroke-width="0.45"/>
<line x1="398.04" y1="242.30" x2="398.04" y2="243.30" stroke="#666" stroke-width="0.3"/>
<line x1="400.35" y1="242.30" x2="400.35" y2="243.30" stroke="#666" stroke-width="0.3"/>
<line x1="401.99" y1="242.30" x2="401.99" y2="243.30" stroke="#666" stroke-width="0.3"/>
<line x1="403.26" y1="242.30" x2="403.26" y2="243.30" stroke="#666" stroke-width="0.3"/>
<line x1="404.29" y1="242.30" x2="404.29" y2="243.30" stroke="#666" stroke-width="0.3"/>
<line x1="405.17" y1="242.30" x2="405.17" y2="243.30" stroke="#666" stroke-width="0.3"/>
<line x1="405.93" y1="242.30" x2="405.93" y2="243.30" stroke="#666" stroke-width="0.3"/>
<line x1="406.60" y1="242.30" x2="406.60" y2="243.30" stroke="#666" stroke-width="0.3"/>
<text transform="translate(393.30 247.20) scale(0.9091 1)" font-size="3.19" text-anchor="middle" fill="#555" >10<tspan font-size="2.1" dy="-1.2">2</tspan></text>
<line x1="407.20" y1="242.30" x2="407.20" y2="244.20" stroke="#444" stroke-width="0.45"/>
<line x1="411.14" y1="242.30" x2="411.14" y2="243.30" stroke="#666" stroke-width="0.3"/>
<line x1="413.45" y1="242.30" x2="413.45" y2="243.30" stroke="#666" stroke-width="0.3"/>
<line x1="415.09" y1="242.30" x2="415.09" y2="243.30" stroke="#666" stroke-width="0.3"/>
<line x1="416.36" y1="242.30" x2="416.36" y2="243.30" stroke="#666" stroke-width="0.3"/>
<line x1="417.39" y1="242.30" x2="417.39" y2="243.30" stroke="#666" stroke-width="0.3"/>
<line x1="418.27" y1="242.30" x2="418.27" y2="243.30" stroke="#666" stroke-width="0.3"/>
<line x1="419.03" y1="242.30" x2="419.03" y2="243.30" stroke="#666" stroke-width="0.3"/>
<line x1="419.70" y1="242.30" x2="419.70" y2="243.30" stroke="#666" stroke-width="0.3"/>
<text transform="translate(406.40 247.20) scale(0.9091 1)" font-size="3.19" text-anchor="middle" fill="#555" >10<tspan font-size="2.1" dy="-1.2">3</tspan></text>
<line x1="420.30" y1="242.30" x2="420.30" y2="244.20" stroke="#444" stroke-width="0.45"/>
<line x1="424.24" y1="242.30" x2="424.24" y2="243.30" stroke="#666" stroke-width="0.3"/>
<text transform="translate(419.50 247.20) scale(0.9091 1)" font-size="3.19" text-anchor="middle" fill="#555" >10<tspan font-size="2.1" dy="-1.2">4</tspan></text>
<line x1="374.15" y1="242.30" x2="374.15" y2="243.30" stroke="#666" stroke-width="0.3"/>
<line x1="375.79" y1="242.30" x2="375.79" y2="243.30" stroke="#666" stroke-width="0.3"/>
<line x1="377.06" y1="242.30" x2="377.06" y2="243.30" stroke="#666" stroke-width="0.3"/>
<line x1="378.09" y1="242.30" x2="378.09" y2="243.30" stroke="#666" stroke-width="0.3"/>
<line x1="378.97" y1="242.30" x2="378.97" y2="243.30" stroke="#666" stroke-width="0.3"/>
<line x1="379.73" y1="242.30" x2="379.73" y2="243.30" stroke="#666" stroke-width="0.3"/>
<line x1="380.40" y1="242.30" x2="380.40" y2="243.30" stroke="#666" stroke-width="0.3"/>
<text transform="translate(366.60 222.30) rotate(-90) scale(0.9091 1)" font-size="4.73" text-anchor="middle" fill="#555" >Count</text>
<text transform="translate(374.20 206.20) scale(0.9091 1)" font-size="5.50" text-anchor="start" fill="#222" stroke="#222" stroke-width="0.05" >14.2%</text>
<rect x="442.00" y="200.30" width="53.00" height="42.00" fill="#fff" stroke="#888" stroke-width="0.5"/>
<path d="M442.00 242.30 L442.00 242.00 L442.44 242.00 L442.88 242.00 L443.32 242.00 L443.77 242.00 L444.21 242.00 L444.65 242.00 L445.09 242.00 L445.53 242.00 L445.98 242.00 L446.42 242.00 L446.86 242.00 L447.30 242.00 L447.74 242.00 L448.18 241.99 L448.62 241.99 L449.07 241.98 L449.51 241.98 L449.95 241.96 L450.39 241.95 L450.83 241.93 L451.27 241.90 L451.72 241.86 L452.16 241.82 L452.60 241.77 L453.04 241.69 L453.48 241.56 L453.93 241.46 L454.37 241.37 L454.81 241.19 L455.25 240.94 L455.69 240.71 L456.13 240.45 L456.57 240.06 L457.02 239.64 L457.46 239.10 L457.90 238.02 L458.34 236.35 L458.78 234.67 L459.23 232.77 L459.67 229.06 L460.11 223.63 L460.55 219.12 L460.99 215.72 L461.43 211.44 L461.88 207.95 L462.32 207.15 L462.76 206.80 L463.20 207.12 L463.64 211.13 L464.08 216.31 L464.52 218.83 L464.97 220.95 L465.41 225.31 L465.85 229.75 L466.29 232.31 L466.73 234.05 L467.18 235.83 L467.62 237.21 L468.06 238.06 L468.50 238.73 L468.94 239.23 L469.38 239.34 L469.82 239.25 L470.27 239.32 L470.71 239.44 L471.15 239.18 L471.59 238.60 L472.03 238.12 L472.48 237.69 L472.92 236.84 L473.36 235.58 L473.80 234.19 L474.24 232.17 L474.68 229.27 L475.12 226.77 L475.57 224.85 L476.01 220.95 L476.45 215.03 L476.89 211.33 L477.33 210.39 L477.77 207.70 L478.22 203.44 L478.66 201.90 L479.10 202.33 L479.54 202.26 L479.98 203.88 L480.43 207.38 L480.87 208.82 L481.31 209.06 L481.75 212.63 L482.19 218.15 L482.63 221.12 L483.07 222.39 L483.52 225.08 L483.96 228.50 L484.40 230.87 L484.84 232.64 L485.28 234.45 L485.73 235.80 L486.17 236.72 L486.61 237.78 L487.05 238.83 L487.49 239.40 L487.93 239.67 L488.38 240.06 L488.82 240.52 L489.26 240.80 L489.70 240.94 L490.14 241.11 L490.58 241.27 L491.02 241.38 L491.47 241.49 L491.91 241.60 L492.35 241.66 L492.79 241.70 L493.23 241.75 L493.68 241.82 L494.12 241.86 L494.56 241.87 L495.00 241.90 L495.00 242.30 Z" fill="#a4a4a4" stroke="#4a4a4a" stroke-width="0.45"/>
<line x1="468.60" y1="200.30" x2="468.60" y2="242.30" stroke="#333" stroke-width="0.5"/>
<line x1="442.00" y1="228.00" x2="468.60" y2="228.00" stroke="#333" stroke-width="0.5"/>
<line x1="442.00" y1="242.30" x2="495.00" y2="242.30" stroke="#444" stroke-width="0.6"/>
<line x1="442.00" y1="200.30" x2="442.00" y2="242.30" stroke="#444" stroke-width="0.6"/>
<line x1="441.30" y1="201.10" x2="441.30" y2="242.30" stroke="#555" stroke-width="1.4" stroke-dasharray="0.35 0.7"/>
<line x1="439.60" y1="203.80" x2="442.00" y2="203.80" stroke="#444" stroke-width="0.45"/>
<text transform="translate(439.40 203.80) rotate(-90) scale(0.9091 1)" font-size="2.86" text-anchor="middle" fill="#555" >150</text>
<line x1="439.60" y1="216.30" x2="442.00" y2="216.30" stroke="#444" stroke-width="0.45"/>
<text transform="translate(439.40 216.30) rotate(-90) scale(0.9091 1)" font-size="2.86" text-anchor="middle" fill="#555" >100</text>
<line x1="439.60" y1="228.80" x2="442.00" y2="228.80" stroke="#444" stroke-width="0.45"/>
<text transform="translate(439.40 228.80) rotate(-90) scale(0.9091 1)" font-size="2.86" text-anchor="middle" fill="#555" >50</text>
<line x1="439.60" y1="241.30" x2="442.00" y2="241.30" stroke="#444" stroke-width="0.45"/>
<text transform="translate(439.40 241.30) rotate(-90) scale(0.9091 1)" font-size="2.86" text-anchor="middle" fill="#555" >0</text>
<line x1="450.40" y1="242.30" x2="450.40" y2="244.20" stroke="#444" stroke-width="0.45"/>
<line x1="454.34" y1="242.30" x2="454.34" y2="243.30" stroke="#666" stroke-width="0.3"/>
<line x1="456.65" y1="242.30" x2="456.65" y2="243.30" stroke="#666" stroke-width="0.3"/>
<line x1="458.29" y1="242.30" x2="458.29" y2="243.30" stroke="#666" stroke-width="0.3"/>
<line x1="459.56" y1="242.30" x2="459.56" y2="243.30" stroke="#666" stroke-width="0.3"/>
<line x1="460.59" y1="242.30" x2="460.59" y2="243.30" stroke="#666" stroke-width="0.3"/>
<line x1="461.47" y1="242.30" x2="461.47" y2="243.30" stroke="#666" stroke-width="0.3"/>
<line x1="462.23" y1="242.30" x2="462.23" y2="243.30" stroke="#666" stroke-width="0.3"/>
<line x1="462.90" y1="242.30" x2="462.90" y2="243.30" stroke="#666" stroke-width="0.3"/>
<text transform="translate(449.60 247.20) scale(0.9091 1)" font-size="3.19" text-anchor="middle" fill="#555" >10<tspan font-size="2.1" dy="-1.2">1</tspan></text>
<line x1="463.50" y1="242.30" x2="463.50" y2="244.20" stroke="#444" stroke-width="0.45"/>
<line x1="467.44" y1="242.30" x2="467.44" y2="243.30" stroke="#666" stroke-width="0.3"/>
<line x1="469.75" y1="242.30" x2="469.75" y2="243.30" stroke="#666" stroke-width="0.3"/>
<line x1="471.39" y1="242.30" x2="471.39" y2="243.30" stroke="#666" stroke-width="0.3"/>
<line x1="472.66" y1="242.30" x2="472.66" y2="243.30" stroke="#666" stroke-width="0.3"/>
<line x1="473.69" y1="242.30" x2="473.69" y2="243.30" stroke="#666" stroke-width="0.3"/>
<line x1="474.57" y1="242.30" x2="474.57" y2="243.30" stroke="#666" stroke-width="0.3"/>
<line x1="475.33" y1="242.30" x2="475.33" y2="243.30" stroke="#666" stroke-width="0.3"/>
<line x1="476.00" y1="242.30" x2="476.00" y2="243.30" stroke="#666" stroke-width="0.3"/>
<text transform="translate(462.70 247.20) scale(0.9091 1)" font-size="3.19" text-anchor="middle" fill="#555" >10<tspan font-size="2.1" dy="-1.2">2</tspan></text>
<line x1="476.60" y1="242.30" x2="476.60" y2="244.20" stroke="#444" stroke-width="0.45"/>
<line x1="480.54" y1="242.30" x2="480.54" y2="243.30" stroke="#666" stroke-width="0.3"/>
<line x1="482.85" y1="242.30" x2="482.85" y2="243.30" stroke="#666" stroke-width="0.3"/>
<line x1="484.49" y1="242.30" x2="484.49" y2="243.30" stroke="#666" stroke-width="0.3"/>
<line x1="485.76" y1="242.30" x2="485.76" y2="243.30" stroke="#666" stroke-width="0.3"/>
<line x1="486.79" y1="242.30" x2="486.79" y2="243.30" stroke="#666" stroke-width="0.3"/>
<line x1="487.67" y1="242.30" x2="487.67" y2="243.30" stroke="#666" stroke-width="0.3"/>
<line x1="488.43" y1="242.30" x2="488.43" y2="243.30" stroke="#666" stroke-width="0.3"/>
<line x1="489.10" y1="242.30" x2="489.10" y2="243.30" stroke="#666" stroke-width="0.3"/>
<text transform="translate(475.80 247.20) scale(0.9091 1)" font-size="3.19" text-anchor="middle" fill="#555" >10<tspan font-size="2.1" dy="-1.2">3</tspan></text>
<line x1="489.70" y1="242.30" x2="489.70" y2="244.20" stroke="#444" stroke-width="0.45"/>
<line x1="493.64" y1="242.30" x2="493.64" y2="243.30" stroke="#666" stroke-width="0.3"/>
<text transform="translate(488.90 247.20) scale(0.9091 1)" font-size="3.19" text-anchor="middle" fill="#555" >10<tspan font-size="2.1" dy="-1.2">4</tspan></text>
<line x1="443.55" y1="242.30" x2="443.55" y2="243.30" stroke="#666" stroke-width="0.3"/>
<line x1="445.19" y1="242.30" x2="445.19" y2="243.30" stroke="#666" stroke-width="0.3"/>
<line x1="446.46" y1="242.30" x2="446.46" y2="243.30" stroke="#666" stroke-width="0.3"/>
<line x1="447.49" y1="242.30" x2="447.49" y2="243.30" stroke="#666" stroke-width="0.3"/>
<line x1="448.37" y1="242.30" x2="448.37" y2="243.30" stroke="#666" stroke-width="0.3"/>
<line x1="449.13" y1="242.30" x2="449.13" y2="243.30" stroke="#666" stroke-width="0.3"/>
<line x1="449.80" y1="242.30" x2="449.80" y2="243.30" stroke="#666" stroke-width="0.3"/>
<text transform="translate(436.00 222.30) rotate(-90) scale(0.9091 1)" font-size="4.73" text-anchor="middle" fill="#555" >Count</text>
<text transform="translate(443.60 206.20) scale(0.9091 1)" font-size="5.50" text-anchor="start" fill="#222" stroke="#222" stroke-width="0.05" >41.9%</text>
<rect x="302.20" y="263.30" width="54.20" height="42.00" fill="#fff" stroke="#888" stroke-width="0.5"/>
<path d="M302.20 305.30 L302.20 305.00 L302.65 305.00 L303.10 305.00 L303.56 305.00 L304.01 305.00 L304.46 305.00 L304.91 305.00 L305.36 305.00 L305.81 305.00 L306.26 305.00 L306.72 305.00 L307.17 305.00 L307.62 305.00 L308.07 305.00 L308.52 305.00 L308.97 305.00 L309.43 305.00 L309.88 305.00 L310.33 305.00 L310.78 304.99 L311.23 304.99 L311.69 304.99 L312.14 304.99 L312.59 304.99 L313.04 304.98 L313.49 304.98 L313.94 304.98 L314.39 304.97 L314.85 304.97 L315.30 304.96 L315.75 304.96 L316.20 304.95 L316.65 304.94 L317.11 304.93 L317.56 304.92 L318.01 304.90 L318.46 304.88 L318.91 304.87 L319.36 304.82 L319.81 304.76 L320.27 304.71 L320.72 304.66 L321.17 304.56 L321.62 304.43 L322.07 304.30 L322.52 304.18 L322.98 304.03 L323.43 303.93 L323.88 303.88 L324.33 303.75 L324.78 303.62 L325.24 303.68 L325.69 303.81 L326.14 303.83 L326.59 303.81 L327.04 303.91 L327.49 304.07 L327.94 304.17 L328.40 304.27 L328.85 304.39 L329.30 304.47 L329.75 304.54 L330.20 304.64 L330.65 304.73 L331.11 304.77 L331.56 304.80 L332.01 304.84 L332.46 304.88 L332.91 304.91 L333.37 304.92 L333.82 304.93 L334.27 304.94 L334.72 304.94 L335.17 304.93 L335.62 304.92 L336.07 304.89 L336.53 304.83 L336.98 304.76 L337.43 304.69 L337.88 304.55 L338.33 304.33 L338.78 304.08 L339.24 303.82 L339.69 303.45 L340.14 302.92 L340.59 302.24 L341.04 301.08 L341.50 298.94 L341.95 295.98 L342.40 292.30 L342.85 285.98 L343.30 276.31 L343.75 268.71 L344.20 266.46 L344.66 265.42 L345.11 265.07 L345.56 268.98 L346.01 275.16 L346.46 280.98 L346.91 287.25 L347.37 293.02 L347.82 296.63 L348.27 298.91 L348.72 300.96 L349.17 302.52 L349.62 303.32 L350.08 303.74 L350.53 304.10 L350.98 304.39 L351.43 304.58 L351.88 304.71 L352.33 304.81 L352.79 304.87 L353.24 304.91 L353.69 304.95 L354.14 304.97 L354.59 304.98 L355.05 304.99 L355.50 304.99 L355.95 305.00 L356.40 305.00 L356.40 305.30 Z" fill="#a4a4a4" stroke="#4a4a4a" stroke-width="0.45"/>
<line x1="335.80" y1="263.30" x2="335.80" y2="305.30" stroke="#333" stroke-width="0.5"/>
<line x1="302.20" y1="302.40" x2="335.80" y2="302.40" stroke="#333" stroke-width="0.5"/>
<line x1="302.20" y1="305.30" x2="356.40" y2="305.30" stroke="#444" stroke-width="0.6"/>
<line x1="302.20" y1="263.30" x2="302.20" y2="305.30" stroke="#444" stroke-width="0.6"/>
<line x1="301.50" y1="264.10" x2="301.50" y2="305.30" stroke="#555" stroke-width="1.4" stroke-dasharray="0.35 0.7"/>
<line x1="299.80" y1="266.80" x2="302.20" y2="266.80" stroke="#444" stroke-width="0.45"/>
<text transform="translate(299.60 266.80) rotate(-90) scale(0.9091 1)" font-size="2.86" text-anchor="middle" fill="#555" >300</text>
<line x1="299.80" y1="279.30" x2="302.20" y2="279.30" stroke="#444" stroke-width="0.45"/>
<text transform="translate(299.60 279.30) rotate(-90) scale(0.9091 1)" font-size="2.86" text-anchor="middle" fill="#555" >200</text>
<line x1="299.80" y1="291.80" x2="302.20" y2="291.80" stroke="#444" stroke-width="0.45"/>
<text transform="translate(299.60 291.80) rotate(-90) scale(0.9091 1)" font-size="2.86" text-anchor="middle" fill="#555" >100</text>
<line x1="299.80" y1="304.30" x2="302.20" y2="304.30" stroke="#444" stroke-width="0.45"/>
<text transform="translate(299.60 304.30) rotate(-90) scale(0.9091 1)" font-size="2.86" text-anchor="middle" fill="#555" >0</text>
<line x1="310.60" y1="305.30" x2="310.60" y2="307.20" stroke="#444" stroke-width="0.45"/>
<line x1="314.54" y1="305.30" x2="314.54" y2="306.30" stroke="#666" stroke-width="0.3"/>
<line x1="316.85" y1="305.30" x2="316.85" y2="306.30" stroke="#666" stroke-width="0.3"/>
<line x1="318.49" y1="305.30" x2="318.49" y2="306.30" stroke="#666" stroke-width="0.3"/>
<line x1="319.76" y1="305.30" x2="319.76" y2="306.30" stroke="#666" stroke-width="0.3"/>
<line x1="320.79" y1="305.30" x2="320.79" y2="306.30" stroke="#666" stroke-width="0.3"/>
<line x1="321.67" y1="305.30" x2="321.67" y2="306.30" stroke="#666" stroke-width="0.3"/>
<line x1="322.43" y1="305.30" x2="322.43" y2="306.30" stroke="#666" stroke-width="0.3"/>
<line x1="323.10" y1="305.30" x2="323.10" y2="306.30" stroke="#666" stroke-width="0.3"/>
<text transform="translate(309.80 310.20) scale(0.9091 1)" font-size="3.19" text-anchor="middle" fill="#555" >10<tspan font-size="2.1" dy="-1.2">1</tspan></text>
<line x1="323.70" y1="305.30" x2="323.70" y2="307.20" stroke="#444" stroke-width="0.45"/>
<line x1="327.64" y1="305.30" x2="327.64" y2="306.30" stroke="#666" stroke-width="0.3"/>
<line x1="329.95" y1="305.30" x2="329.95" y2="306.30" stroke="#666" stroke-width="0.3"/>
<line x1="331.59" y1="305.30" x2="331.59" y2="306.30" stroke="#666" stroke-width="0.3"/>
<line x1="332.86" y1="305.30" x2="332.86" y2="306.30" stroke="#666" stroke-width="0.3"/>
<line x1="333.89" y1="305.30" x2="333.89" y2="306.30" stroke="#666" stroke-width="0.3"/>
<line x1="334.77" y1="305.30" x2="334.77" y2="306.30" stroke="#666" stroke-width="0.3"/>
<line x1="335.53" y1="305.30" x2="335.53" y2="306.30" stroke="#666" stroke-width="0.3"/>
<line x1="336.20" y1="305.30" x2="336.20" y2="306.30" stroke="#666" stroke-width="0.3"/>
<text transform="translate(322.90 310.20) scale(0.9091 1)" font-size="3.19" text-anchor="middle" fill="#555" >10<tspan font-size="2.1" dy="-1.2">2</tspan></text>
<line x1="336.80" y1="305.30" x2="336.80" y2="307.20" stroke="#444" stroke-width="0.45"/>
<line x1="340.74" y1="305.30" x2="340.74" y2="306.30" stroke="#666" stroke-width="0.3"/>
<line x1="343.05" y1="305.30" x2="343.05" y2="306.30" stroke="#666" stroke-width="0.3"/>
<line x1="344.69" y1="305.30" x2="344.69" y2="306.30" stroke="#666" stroke-width="0.3"/>
<line x1="345.96" y1="305.30" x2="345.96" y2="306.30" stroke="#666" stroke-width="0.3"/>
<line x1="346.99" y1="305.30" x2="346.99" y2="306.30" stroke="#666" stroke-width="0.3"/>
<line x1="347.87" y1="305.30" x2="347.87" y2="306.30" stroke="#666" stroke-width="0.3"/>
<line x1="348.63" y1="305.30" x2="348.63" y2="306.30" stroke="#666" stroke-width="0.3"/>
<line x1="349.30" y1="305.30" x2="349.30" y2="306.30" stroke="#666" stroke-width="0.3"/>
<text transform="translate(336.00 310.20) scale(0.9091 1)" font-size="3.19" text-anchor="middle" fill="#555" >10<tspan font-size="2.1" dy="-1.2">3</tspan></text>
<line x1="349.90" y1="305.30" x2="349.90" y2="307.20" stroke="#444" stroke-width="0.45"/>
<line x1="353.84" y1="305.30" x2="353.84" y2="306.30" stroke="#666" stroke-width="0.3"/>
<line x1="356.15" y1="305.30" x2="356.15" y2="306.30" stroke="#666" stroke-width="0.3"/>
<text transform="translate(349.10 310.20) scale(0.9091 1)" font-size="3.19" text-anchor="middle" fill="#555" >10<tspan font-size="2.1" dy="-1.2">4</tspan></text>
<line x1="303.75" y1="305.30" x2="303.75" y2="306.30" stroke="#666" stroke-width="0.3"/>
<line x1="305.39" y1="305.30" x2="305.39" y2="306.30" stroke="#666" stroke-width="0.3"/>
<line x1="306.66" y1="305.30" x2="306.66" y2="306.30" stroke="#666" stroke-width="0.3"/>
<line x1="307.69" y1="305.30" x2="307.69" y2="306.30" stroke="#666" stroke-width="0.3"/>
<line x1="308.57" y1="305.30" x2="308.57" y2="306.30" stroke="#666" stroke-width="0.3"/>
<line x1="309.33" y1="305.30" x2="309.33" y2="306.30" stroke="#666" stroke-width="0.3"/>
<line x1="310.00" y1="305.30" x2="310.00" y2="306.30" stroke="#666" stroke-width="0.3"/>
<text transform="translate(296.20 285.30) rotate(-90) scale(0.9091 1)" font-size="4.73" text-anchor="middle" fill="#555" >Count</text>
<text transform="translate(303.80 269.20) scale(0.9091 1)" font-size="5.50" text-anchor="start" fill="#222" stroke="#222" stroke-width="0.05" >7.4%</text>
<rect x="372.60" y="263.30" width="53.20" height="42.00" fill="#fff" stroke="#888" stroke-width="0.5"/>
<path d="M372.60 305.30 L372.60 305.00 L373.04 305.00 L373.49 305.00 L373.93 305.00 L374.37 305.00 L374.82 305.00 L375.26 305.00 L375.70 305.00 L376.15 304.99 L376.59 304.99 L377.03 304.99 L377.48 304.99 L377.92 304.99 L378.36 304.98 L378.81 304.98 L379.25 304.97 L379.69 304.97 L380.14 304.96 L380.58 304.95 L381.02 304.95 L381.47 304.94 L381.91 304.93 L382.35 304.91 L382.80 304.90 L383.24 304.89 L383.68 304.86 L384.13 304.83 L384.57 304.80 L385.01 304.77 L385.46 304.71 L385.90 304.61 L386.34 304.52 L386.79 304.40 L387.23 304.23 L387.67 304.08 L388.12 303.92 L388.56 303.66 L389.00 303.35 L389.45 303.23 L389.89 303.22 L390.33 303.03 L390.78 302.81 L391.22 302.84 L391.66 302.99 L392.11 303.05 L392.55 303.14 L392.99 303.31 L393.44 303.43 L393.88 303.55 L394.32 303.79 L394.77 304.03 L395.21 304.14 L395.65 304.22 L396.10 304.37 L396.54 304.53 L396.98 304.61 L397.43 304.67 L397.87 304.74 L398.31 304.79 L398.76 304.83 L399.20 304.87 L399.64 304.90 L400.09 304.91 L400.53 304.92 L400.97 304.93 L401.42 304.94 L401.86 304.95 L402.30 304.94 L402.75 304.93 L403.19 304.92 L403.63 304.89 L404.08 304.85 L404.52 304.79 L404.96 304.71 L405.41 304.58 L405.85 304.45 L406.29 304.32 L406.74 304.08 L407.18 303.70 L407.62 303.34 L408.07 303.04 L408.51 302.46 L408.95 301.42 L409.40 300.00 L409.84 297.89 L410.28 294.42 L410.73 289.88 L411.17 284.94 L411.61 277.90 L412.06 268.98 L412.50 264.57 L412.94 266.18 L413.39 266.97 L413.83 266.64 L414.27 270.78 L414.72 277.74 L415.16 283.37 L415.60 288.18 L416.05 292.81 L416.49 296.20 L416.93 298.51 L417.38 300.55 L417.82 302.13 L418.26 302.96 L418.71 303.39 L419.15 303.82 L419.59 304.20 L420.04 304.43 L420.48 304.57 L420.92 304.69 L421.37 304.78 L421.81 304.85 L422.25 304.90 L422.70 304.93 L423.14 304.96 L423.58 304.97 L424.03 304.98 L424.47 304.99 L424.91 304.99 L425.36 305.00 L425.80 305.00 L425.80 305.30 Z" fill="#a4a4a4" stroke="#4a4a4a" stroke-width="0.45"/>
<line x1="405.00" y1="263.30" x2="405.00" y2="305.30" stroke="#333" stroke-width="0.5"/>
<line x1="372.60" y1="299.00" x2="405.00" y2="299.00" stroke="#333" stroke-width="0.5"/>
<line x1="372.60" y1="305.30" x2="425.80" y2="305.30" stroke="#444" stroke-width="0.6"/>
<line x1="372.60" y1="263.30" x2="372.60" y2="305.30" stroke="#444" stroke-width="0.6"/>
<line x1="371.90" y1="264.10" x2="371.90" y2="305.30" stroke="#555" stroke-width="1.4" stroke-dasharray="0.35 0.7"/>
<line x1="370.20" y1="266.80" x2="372.60" y2="266.80" stroke="#444" stroke-width="0.45"/>
<text transform="translate(370.00 266.80) rotate(-90) scale(0.9091 1)" font-size="2.86" text-anchor="middle" fill="#555" >300</text>
<line x1="370.20" y1="279.30" x2="372.60" y2="279.30" stroke="#444" stroke-width="0.45"/>
<text transform="translate(370.00 279.30) rotate(-90) scale(0.9091 1)" font-size="2.86" text-anchor="middle" fill="#555" >200</text>
<line x1="370.20" y1="291.80" x2="372.60" y2="291.80" stroke="#444" stroke-width="0.45"/>
<text transform="translate(370.00 291.80) rotate(-90) scale(0.9091 1)" font-size="2.86" text-anchor="middle" fill="#555" >100</text>
<line x1="370.20" y1="304.30" x2="372.60" y2="304.30" stroke="#444" stroke-width="0.45"/>
<text transform="translate(370.00 304.30) rotate(-90) scale(0.9091 1)" font-size="2.86" text-anchor="middle" fill="#555" >0</text>
<line x1="381.00" y1="305.30" x2="381.00" y2="307.20" stroke="#444" stroke-width="0.45"/>
<line x1="384.94" y1="305.30" x2="384.94" y2="306.30" stroke="#666" stroke-width="0.3"/>
<line x1="387.25" y1="305.30" x2="387.25" y2="306.30" stroke="#666" stroke-width="0.3"/>
<line x1="388.89" y1="305.30" x2="388.89" y2="306.30" stroke="#666" stroke-width="0.3"/>
<line x1="390.16" y1="305.30" x2="390.16" y2="306.30" stroke="#666" stroke-width="0.3"/>
<line x1="391.19" y1="305.30" x2="391.19" y2="306.30" stroke="#666" stroke-width="0.3"/>
<line x1="392.07" y1="305.30" x2="392.07" y2="306.30" stroke="#666" stroke-width="0.3"/>
<line x1="392.83" y1="305.30" x2="392.83" y2="306.30" stroke="#666" stroke-width="0.3"/>
<line x1="393.50" y1="305.30" x2="393.50" y2="306.30" stroke="#666" stroke-width="0.3"/>
<text transform="translate(380.20 310.20) scale(0.9091 1)" font-size="3.19" text-anchor="middle" fill="#555" >10<tspan font-size="2.1" dy="-1.2">1</tspan></text>
<line x1="394.10" y1="305.30" x2="394.10" y2="307.20" stroke="#444" stroke-width="0.45"/>
<line x1="398.04" y1="305.30" x2="398.04" y2="306.30" stroke="#666" stroke-width="0.3"/>
<line x1="400.35" y1="305.30" x2="400.35" y2="306.30" stroke="#666" stroke-width="0.3"/>
<line x1="401.99" y1="305.30" x2="401.99" y2="306.30" stroke="#666" stroke-width="0.3"/>
<line x1="403.26" y1="305.30" x2="403.26" y2="306.30" stroke="#666" stroke-width="0.3"/>
<line x1="404.29" y1="305.30" x2="404.29" y2="306.30" stroke="#666" stroke-width="0.3"/>
<line x1="405.17" y1="305.30" x2="405.17" y2="306.30" stroke="#666" stroke-width="0.3"/>
<line x1="405.93" y1="305.30" x2="405.93" y2="306.30" stroke="#666" stroke-width="0.3"/>
<line x1="406.60" y1="305.30" x2="406.60" y2="306.30" stroke="#666" stroke-width="0.3"/>
<text transform="translate(393.30 310.20) scale(0.9091 1)" font-size="3.19" text-anchor="middle" fill="#555" >10<tspan font-size="2.1" dy="-1.2">2</tspan></text>
<line x1="407.20" y1="305.30" x2="407.20" y2="307.20" stroke="#444" stroke-width="0.45"/>
<line x1="411.14" y1="305.30" x2="411.14" y2="306.30" stroke="#666" stroke-width="0.3"/>
<line x1="413.45" y1="305.30" x2="413.45" y2="306.30" stroke="#666" stroke-width="0.3"/>
<line x1="415.09" y1="305.30" x2="415.09" y2="306.30" stroke="#666" stroke-width="0.3"/>
<line x1="416.36" y1="305.30" x2="416.36" y2="306.30" stroke="#666" stroke-width="0.3"/>
<line x1="417.39" y1="305.30" x2="417.39" y2="306.30" stroke="#666" stroke-width="0.3"/>
<line x1="418.27" y1="305.30" x2="418.27" y2="306.30" stroke="#666" stroke-width="0.3"/>
<line x1="419.03" y1="305.30" x2="419.03" y2="306.30" stroke="#666" stroke-width="0.3"/>
<line x1="419.70" y1="305.30" x2="419.70" y2="306.30" stroke="#666" stroke-width="0.3"/>
<text transform="translate(406.40 310.20) scale(0.9091 1)" font-size="3.19" text-anchor="middle" fill="#555" >10<tspan font-size="2.1" dy="-1.2">3</tspan></text>
<line x1="420.30" y1="305.30" x2="420.30" y2="307.20" stroke="#444" stroke-width="0.45"/>
<line x1="424.24" y1="305.30" x2="424.24" y2="306.30" stroke="#666" stroke-width="0.3"/>
<text transform="translate(419.50 310.20) scale(0.9091 1)" font-size="3.19" text-anchor="middle" fill="#555" >10<tspan font-size="2.1" dy="-1.2">4</tspan></text>
<line x1="374.15" y1="305.30" x2="374.15" y2="306.30" stroke="#666" stroke-width="0.3"/>
<line x1="375.79" y1="305.30" x2="375.79" y2="306.30" stroke="#666" stroke-width="0.3"/>
<line x1="377.06" y1="305.30" x2="377.06" y2="306.30" stroke="#666" stroke-width="0.3"/>
<line x1="378.09" y1="305.30" x2="378.09" y2="306.30" stroke="#666" stroke-width="0.3"/>
<line x1="378.97" y1="305.30" x2="378.97" y2="306.30" stroke="#666" stroke-width="0.3"/>
<line x1="379.73" y1="305.30" x2="379.73" y2="306.30" stroke="#666" stroke-width="0.3"/>
<line x1="380.40" y1="305.30" x2="380.40" y2="306.30" stroke="#666" stroke-width="0.3"/>
<text transform="translate(366.60 285.30) rotate(-90) scale(0.9091 1)" font-size="4.73" text-anchor="middle" fill="#555" >Count</text>
<text transform="translate(374.20 269.20) scale(0.9091 1)" font-size="5.50" text-anchor="start" fill="#222" stroke="#222" stroke-width="0.05" >8.0%</text>
<rect x="442.00" y="263.30" width="53.00" height="42.00" fill="#fff" stroke="#888" stroke-width="0.5"/>
<path d="M442.00 305.30 L442.00 305.00 L442.44 305.00 L442.88 305.00 L443.32 305.00 L443.77 305.00 L444.21 305.00 L444.65 305.00 L445.09 305.00 L445.53 305.00 L445.98 305.00 L446.42 305.00 L446.86 304.99 L447.30 304.99 L447.74 304.99 L448.18 304.99 L448.62 304.99 L449.07 304.98 L449.51 304.98 L449.95 304.98 L450.39 304.97 L450.83 304.96 L451.27 304.96 L451.72 304.95 L452.16 304.94 L452.60 304.92 L453.04 304.92 L453.48 304.90 L453.93 304.89 L454.37 304.87 L454.81 304.85 L455.25 304.80 L455.69 304.76 L456.13 304.73 L456.57 304.67 L457.02 304.55 L457.46 304.41 L457.90 304.30 L458.34 304.16 L458.78 303.93 L459.23 303.69 L459.67 303.48 L460.11 303.22 L460.55 303.00 L460.99 302.94 L461.43 302.87 L461.88 302.63 L462.32 302.56 L462.76 302.80 L463.20 303.00 L463.64 303.00 L464.08 303.07 L464.52 303.32 L464.97 303.54 L465.41 303.71 L465.85 303.91 L466.29 304.09 L466.73 304.20 L467.18 304.33 L467.62 304.49 L468.06 304.61 L468.50 304.66 L468.94 304.71 L469.38 304.78 L469.82 304.83 L470.27 304.86 L470.71 304.88 L471.15 304.90 L471.59 304.92 L472.03 304.93 L472.48 304.94 L472.92 304.94 L473.36 304.93 L473.80 304.91 L474.24 304.89 L474.68 304.87 L475.12 304.81 L475.57 304.71 L476.01 304.61 L476.45 304.49 L476.89 304.30 L477.33 304.08 L477.77 303.82 L478.22 303.39 L478.66 302.84 L479.10 302.34 L479.54 301.61 L479.98 299.88 L480.43 296.97 L480.87 293.55 L481.31 289.29 L481.75 282.65 L482.19 275.03 L482.63 269.20 L483.07 264.63 L483.52 263.50 L483.96 266.48 L484.40 271.74 L484.84 274.70 L485.28 278.75 L485.73 285.74 L486.17 291.80 L486.61 295.22 L487.05 297.75 L487.49 300.08 L487.93 301.70 L488.38 302.68 L488.82 303.38 L489.26 303.87 L489.70 304.14 L490.14 304.35 L490.58 304.56 L491.02 304.71 L491.47 304.79 L491.91 304.84 L492.35 304.90 L492.79 304.94 L493.23 304.96 L493.68 304.97 L494.12 304.98 L494.56 304.99 L495.00 304.99 L495.00 305.30 Z" fill="#a4a4a4" stroke="#4a4a4a" stroke-width="0.45"/>
<line x1="474.60" y1="263.30" x2="474.60" y2="305.30" stroke="#333" stroke-width="0.5"/>
<line x1="442.00" y1="299.00" x2="474.60" y2="299.00" stroke="#333" stroke-width="0.5"/>
<line x1="442.00" y1="305.30" x2="495.00" y2="305.30" stroke="#444" stroke-width="0.6"/>
<line x1="442.00" y1="263.30" x2="442.00" y2="305.30" stroke="#444" stroke-width="0.6"/>
<line x1="441.30" y1="264.10" x2="441.30" y2="305.30" stroke="#555" stroke-width="1.4" stroke-dasharray="0.35 0.7"/>
<line x1="439.60" y1="266.80" x2="442.00" y2="266.80" stroke="#444" stroke-width="0.45"/>
<text transform="translate(439.40 266.80) rotate(-90) scale(0.9091 1)" font-size="2.86" text-anchor="middle" fill="#555" >300</text>
<line x1="439.60" y1="279.30" x2="442.00" y2="279.30" stroke="#444" stroke-width="0.45"/>
<text transform="translate(439.40 279.30) rotate(-90) scale(0.9091 1)" font-size="2.86" text-anchor="middle" fill="#555" >200</text>
<line x1="439.60" y1="291.80" x2="442.00" y2="291.80" stroke="#444" stroke-width="0.45"/>
<text transform="translate(439.40 291.80) rotate(-90) scale(0.9091 1)" font-size="2.86" text-anchor="middle" fill="#555" >100</text>
<line x1="439.60" y1="304.30" x2="442.00" y2="304.30" stroke="#444" stroke-width="0.45"/>
<text transform="translate(439.40 304.30) rotate(-90) scale(0.9091 1)" font-size="2.86" text-anchor="middle" fill="#555" >0</text>
<line x1="450.40" y1="305.30" x2="450.40" y2="307.20" stroke="#444" stroke-width="0.45"/>
<line x1="454.34" y1="305.30" x2="454.34" y2="306.30" stroke="#666" stroke-width="0.3"/>
<line x1="456.65" y1="305.30" x2="456.65" y2="306.30" stroke="#666" stroke-width="0.3"/>
<line x1="458.29" y1="305.30" x2="458.29" y2="306.30" stroke="#666" stroke-width="0.3"/>
<line x1="459.56" y1="305.30" x2="459.56" y2="306.30" stroke="#666" stroke-width="0.3"/>
<line x1="460.59" y1="305.30" x2="460.59" y2="306.30" stroke="#666" stroke-width="0.3"/>
<line x1="461.47" y1="305.30" x2="461.47" y2="306.30" stroke="#666" stroke-width="0.3"/>
<line x1="462.23" y1="305.30" x2="462.23" y2="306.30" stroke="#666" stroke-width="0.3"/>
<line x1="462.90" y1="305.30" x2="462.90" y2="306.30" stroke="#666" stroke-width="0.3"/>
<text transform="translate(449.60 310.20) scale(0.9091 1)" font-size="3.19" text-anchor="middle" fill="#555" >10<tspan font-size="2.1" dy="-1.2">1</tspan></text>
<line x1="463.50" y1="305.30" x2="463.50" y2="307.20" stroke="#444" stroke-width="0.45"/>
<line x1="467.44" y1="305.30" x2="467.44" y2="306.30" stroke="#666" stroke-width="0.3"/>
<line x1="469.75" y1="305.30" x2="469.75" y2="306.30" stroke="#666" stroke-width="0.3"/>
<line x1="471.39" y1="305.30" x2="471.39" y2="306.30" stroke="#666" stroke-width="0.3"/>
<line x1="472.66" y1="305.30" x2="472.66" y2="306.30" stroke="#666" stroke-width="0.3"/>
<line x1="473.69" y1="305.30" x2="473.69" y2="306.30" stroke="#666" stroke-width="0.3"/>
<line x1="474.57" y1="305.30" x2="474.57" y2="306.30" stroke="#666" stroke-width="0.3"/>
<line x1="475.33" y1="305.30" x2="475.33" y2="306.30" stroke="#666" stroke-width="0.3"/>
<line x1="476.00" y1="305.30" x2="476.00" y2="306.30" stroke="#666" stroke-width="0.3"/>
<text transform="translate(462.70 310.20) scale(0.9091 1)" font-size="3.19" text-anchor="middle" fill="#555" >10<tspan font-size="2.1" dy="-1.2">2</tspan></text>
<line x1="476.60" y1="305.30" x2="476.60" y2="307.20" stroke="#444" stroke-width="0.45"/>
<line x1="480.54" y1="305.30" x2="480.54" y2="306.30" stroke="#666" stroke-width="0.3"/>
<line x1="482.85" y1="305.30" x2="482.85" y2="306.30" stroke="#666" stroke-width="0.3"/>
<line x1="484.49" y1="305.30" x2="484.49" y2="306.30" stroke="#666" stroke-width="0.3"/>
<line x1="485.76" y1="305.30" x2="485.76" y2="306.30" stroke="#666" stroke-width="0.3"/>
<line x1="486.79" y1="305.30" x2="486.79" y2="306.30" stroke="#666" stroke-width="0.3"/>
<line x1="487.67" y1="305.30" x2="487.67" y2="306.30" stroke="#666" stroke-width="0.3"/>
<line x1="488.43" y1="305.30" x2="488.43" y2="306.30" stroke="#666" stroke-width="0.3"/>
<line x1="489.10" y1="305.30" x2="489.10" y2="306.30" stroke="#666" stroke-width="0.3"/>
<text transform="translate(475.80 310.20) scale(0.9091 1)" font-size="3.19" text-anchor="middle" fill="#555" >10<tspan font-size="2.1" dy="-1.2">3</tspan></text>
<line x1="489.70" y1="305.30" x2="489.70" y2="307.20" stroke="#444" stroke-width="0.45"/>
<line x1="493.64" y1="305.30" x2="493.64" y2="306.30" stroke="#666" stroke-width="0.3"/>
<text transform="translate(488.90 310.20) scale(0.9091 1)" font-size="3.19" text-anchor="middle" fill="#555" >10<tspan font-size="2.1" dy="-1.2">4</tspan></text>
<line x1="443.55" y1="305.30" x2="443.55" y2="306.30" stroke="#666" stroke-width="0.3"/>
<line x1="445.19" y1="305.30" x2="445.19" y2="306.30" stroke="#666" stroke-width="0.3"/>
<line x1="446.46" y1="305.30" x2="446.46" y2="306.30" stroke="#666" stroke-width="0.3"/>
<line x1="447.49" y1="305.30" x2="447.49" y2="306.30" stroke="#666" stroke-width="0.3"/>
<line x1="448.37" y1="305.30" x2="448.37" y2="306.30" stroke="#666" stroke-width="0.3"/>
<line x1="449.13" y1="305.30" x2="449.13" y2="306.30" stroke="#666" stroke-width="0.3"/>
<line x1="449.80" y1="305.30" x2="449.80" y2="306.30" stroke="#666" stroke-width="0.3"/>
<text transform="translate(436.00 285.30) rotate(-90) scale(0.9091 1)" font-size="4.73" text-anchor="middle" fill="#555" >Count</text>
<text transform="translate(443.60 269.20) scale(0.9091 1)" font-size="5.50" text-anchor="start" fill="#222" stroke="#222" stroke-width="0.05" >10.8%</text>
</svg></body></html>
